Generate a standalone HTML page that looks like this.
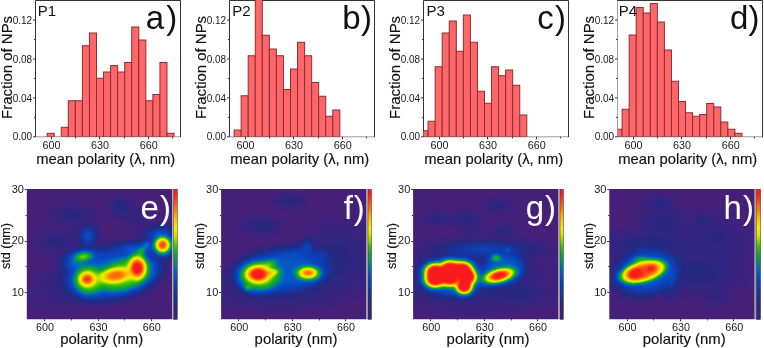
<!DOCTYPE html>
<html><head><meta charset="utf-8"><title>figure</title>
<style>
html,body{margin:0;padding:0;background:#fff;}
body{width:764px;height:348px;overflow:hidden;}
svg{display:block;font-family:"Liberation Sans", sans-serif;will-change:transform;}
</style></head><body>
<svg width="764" height="348" viewBox="0 0 764 348">
<defs>
<filter id="cm" x="0" y="0" width="1" height="1" color-interpolation-filters="sRGB"><feGaussianBlur stdDeviation="0.9"/><feComponentTransfer><feFuncR type="table" tableValues="0.275 0.256 0.237 0.218 0.200 0.184 0.167 0.150 0.136 0.123 0.111 0.098 0.088 0.079 0.070 0.062 0.054 0.048 0.043 0.038 0.032 0.027 0.022 0.016 0.011 0.007 0.004 0.002 0.005 0.025 0.045 0.064 0.084 0.130 0.179 0.229 0.319 0.425 0.532 0.641 0.749 0.814 0.858 0.901 0.945 0.958 0.968 0.978 0.980 0.980 0.980 0.980 0.980 0.980 0.980 0.980 0.980 0.980 0.980 0.980 0.980 0.978 0.975 0.973"/><feFuncG type="table" tableValues="0.125 0.130 0.134 0.138 0.143 0.149 0.155 0.161 0.168 0.177 0.185 0.193 0.203 0.214 0.224 0.235 0.246 0.259 0.271 0.284 0.296 0.320 0.345 0.371 0.397 0.433 0.483 0.533 0.575 0.597 0.619 0.642 0.664 0.688 0.713 0.738 0.768 0.799 0.830 0.861 0.892 0.909 0.919 0.930 0.940 0.902 0.858 0.815 0.775 0.736 0.692 0.629 0.567 0.506 0.454 0.402 0.350 0.298 0.246 0.193 0.147 0.132 0.117 0.102"/><feFuncB type="table" tableValues="0.478 0.485 0.491 0.497 0.502 0.504 0.507 0.509 0.520 0.543 0.565 0.588 0.611 0.634 0.658 0.681 0.702 0.718 0.734 0.750 0.766 0.770 0.772 0.774 0.775 0.727 0.611 0.495 0.396 0.338 0.280 0.222 0.164 0.135 0.110 0.085 0.056 0.025 0.000 0.000 0.000 0.000 0.000 0.000 0.000 0.000 0.000 0.000 0.000 0.000 0.000 0.000 0.000 0.002 0.022 0.043 0.064 0.080 0.087 0.093 0.099 0.102 0.106 0.110"/><feFuncA type="identity"/></feComponentTransfer></filter><linearGradient id="cbar" x1="0" y1="0" x2="0" y2="1"><stop offset="0.000" stop-color="rgb(248,26,28)"/><stop offset="0.050" stop-color="rgb(250,38,25)"/><stop offset="0.100" stop-color="rgb(250,80,20)"/><stop offset="0.160" stop-color="rgb(250,130,0)"/><stop offset="0.210" stop-color="rgb(250,180,0)"/><stop offset="0.250" stop-color="rgb(250,205,0)"/><stop offset="0.300" stop-color="rgb(242,240,0)"/><stop offset="0.360" stop-color="rgb(200,230,0)"/><stop offset="0.400" stop-color="rgb(130,210,0)"/><stop offset="0.440" stop-color="rgb(62,190,20)"/><stop offset="0.490" stop-color="rgb(22,170,40)"/><stop offset="0.560" stop-color="rgb(0,145,105)"/><stop offset="0.610" stop-color="rgb(2,105,198)"/><stop offset="0.680" stop-color="rgb(8,76,196)"/><stop offset="0.750" stop-color="rgb(14,62,178)"/><stop offset="0.820" stop-color="rgb(24,50,152)"/><stop offset="0.880" stop-color="rgb(36,42,130)"/><stop offset="0.940" stop-color="rgb(52,36,128)"/><stop offset="1" stop-color="rgb(52,36,128)"/></linearGradient><clipPath id="hc0"><rect x="26.80" y="189.00" width="145.40" height="130.20"/></clipPath><clipPath id="hc1"><rect x="221.10" y="189.00" width="145.40" height="130.20"/></clipPath><clipPath id="hc2"><rect x="413.10" y="189.00" width="145.40" height="130.20"/></clipPath><clipPath id="hc3"><rect x="609.30" y="189.00" width="145.40" height="130.20"/></clipPath>
</defs>
<clipPath id="cp0"><rect x="35.5" y="0" width="145" height="136.8"/></clipPath>
<path d="M35.5 136.8H180.5" stroke="#9a9a9a" stroke-width="1"/>
<path d="M35.5 136.8V0.5H180.5V137.1" fill="none" stroke="#333333" stroke-width="1"/>
<g clip-path="url(#cp0)" fill="#ff666a" stroke="#8a3030" stroke-width="1"><rect x="47.15" y="133.3" width="7.05" height="3.5"/><rect x="61.25" y="127.3" width="7.05" height="9.5"/><rect x="68.3" y="100.75" width="7.05" height="36.05"/><rect x="75.35" y="100.75" width="7.05" height="36.05"/><rect x="82.4" y="45.75" width="7.05" height="91.05"/><rect x="89.45" y="33" width="7.05" height="103.8"/><rect x="96.5" y="78.25" width="7.05" height="58.55"/><rect x="103.55" y="72" width="7.05" height="64.8"/><rect x="110.6" y="65.6" width="7.05" height="71.2"/><rect x="117.65" y="72" width="7.05" height="64.8"/><rect x="124.7" y="62.5" width="7.05" height="74.3"/><rect x="131.75" y="27" width="7.05" height="109.8"/><rect x="138.8" y="40" width="7.05" height="96.8"/><rect x="145.85" y="100.75" width="7.05" height="36.05"/><rect x="152.9" y="94.5" width="7.05" height="42.3"/><rect x="159.95" y="62.5" width="7.05" height="74.3"/><rect x="167" y="133.3" width="7.05" height="3.5"/></g>
<path d="M33 136.8h2.5M33 97.9h2.5M33 59h2.5M33 20.1h2.5M34 117.35h1.5M34 78.45h1.5M34 39.55h1.5M51.5 136.8v2.5M99.5 136.8v2.5M148.5 136.8v2.5M75.5 136.8v1.5M124.5 136.8v1.5M172.5 136.8v1.5" stroke="#333333" stroke-width="1" fill="none"/>
<g font-size="10.8" fill="#1a1a1a"><text x="32.1" y="140.4" text-anchor="end" font-size="10">0.00</text><text x="32.1" y="101.5" text-anchor="end" font-size="10">0.04</text><text x="32.1" y="62.6" text-anchor="end" font-size="10">0.08</text><text x="32.1" y="23.7" text-anchor="end" font-size="10">0.12</text><text x="51.5" y="148.9" text-anchor="middle">600</text><text x="100.1" y="148.9" text-anchor="middle">630</text><text x="148.7" y="148.9" text-anchor="middle">660</text></g>
<text x="105.8" y="163.5" font-size="14.5" fill="#111" stroke="#111" stroke-width="0.15" text-anchor="middle" textLength="139" lengthAdjust="spacingAndGlyphs">mean polarity (&#955;, nm)</text>
<text transform="translate(12.4 67.4) rotate(-90)" font-size="14.3" fill="#111" stroke="#111" stroke-width="0.15" text-anchor="middle" textLength="103" lengthAdjust="spacingAndGlyphs">Fraction of NPs</text>
<text x="37.7" y="15.5" font-size="15" fill="#111">P1</text>
<g font-size="33" fill="#111"><text x="145.8" y="28.8">a</text><text x="166.35" y="28.8">)</text></g>
<clipPath id="cp1"><rect x="229.5" y="0" width="145" height="136.8"/></clipPath>
<path d="M229.5 136.8H374.5" stroke="#9a9a9a" stroke-width="1"/>
<path d="M229.5 136.8V0.5H374.5V137.1" fill="none" stroke="#333333" stroke-width="1"/>
<g clip-path="url(#cp1)" fill="#ff666a" stroke="#8a3030" stroke-width="1"><rect x="234.1" y="130" width="7.05" height="6.8"/><rect x="241.15" y="95.75" width="7.05" height="41.05"/><rect x="248.2" y="55.75" width="7.05" height="81.05"/><rect x="255.25" y="-5" width="7.05" height="141.8"/><rect x="262.3" y="35.25" width="7.05" height="101.55"/><rect x="269.35" y="49" width="7.05" height="87.8"/><rect x="276.4" y="55.75" width="7.05" height="81.05"/><rect x="283.45" y="89.5" width="7.05" height="47.3"/><rect x="290.5" y="69" width="7.05" height="67.8"/><rect x="297.55" y="42.25" width="7.05" height="94.55"/><rect x="304.6" y="55.75" width="7.05" height="81.05"/><rect x="311.65" y="82.5" width="7.05" height="54.3"/><rect x="318.7" y="96.25" width="7.05" height="40.55"/><rect x="325.75" y="116.25" width="7.05" height="20.55"/><rect x="332.8" y="110" width="7.05" height="26.8"/></g>
<path d="M227 136.8h2.5M227 97.9h2.5M227 59h2.5M227 20.1h2.5M228 117.35h1.5M228 78.45h1.5M228 39.55h1.5M245.5 136.8v2.5M293.5 136.8v2.5M342.5 136.8v2.5M269.5 136.8v1.5M318.5 136.8v1.5M366.5 136.8v1.5" stroke="#333333" stroke-width="1" fill="none"/>
<g font-size="10.8" fill="#1a1a1a"><text x="226.1" y="140.4" text-anchor="end" font-size="10">0.00</text><text x="226.1" y="101.5" text-anchor="end" font-size="10">0.04</text><text x="226.1" y="62.6" text-anchor="end" font-size="10">0.08</text><text x="226.1" y="23.7" text-anchor="end" font-size="10">0.12</text><text x="245.5" y="148.9" text-anchor="middle">600</text><text x="294.1" y="148.9" text-anchor="middle">630</text><text x="342.7" y="148.9" text-anchor="middle">660</text></g>
<text x="299.8" y="163.5" font-size="14.5" fill="#111" stroke="#111" stroke-width="0.15" text-anchor="middle" textLength="139" lengthAdjust="spacingAndGlyphs">mean polarity (&#955;, nm)</text>
<text transform="translate(206.4 67.4) rotate(-90)" font-size="14.3" fill="#111" stroke="#111" stroke-width="0.15" text-anchor="middle" textLength="103" lengthAdjust="spacingAndGlyphs">Fraction of NPs</text>
<text x="232.3" y="15.5" font-size="15" fill="#111">P2</text>
<g font-size="33" fill="#111"><text x="342.25" y="28.8">b</text><text x="361.1" y="28.8">)</text></g>
<clipPath id="cp2"><rect x="423.5" y="0" width="145" height="136.8"/></clipPath>
<path d="M423.5 136.8H568.5" stroke="#9a9a9a" stroke-width="1"/>
<path d="M423.5 136.8V0.5H568.5V137.1" fill="none" stroke="#333333" stroke-width="1"/>
<g clip-path="url(#cp2)" fill="#ff666a" stroke="#8a3030" stroke-width="1"><rect x="421.05" y="130.75" width="7.05" height="6.05"/><rect x="428.1" y="121.25" width="7.05" height="15.55"/><rect x="435.15" y="66.75" width="7.05" height="70.05"/><rect x="442.2" y="33" width="7.05" height="103.8"/><rect x="449.25" y="21" width="7.05" height="115.8"/><rect x="456.3" y="51.25" width="7.05" height="85.55"/><rect x="463.35" y="15" width="7.05" height="121.8"/><rect x="470.4" y="42.25" width="7.05" height="94.55"/><rect x="477.45" y="91.25" width="7.05" height="45.55"/><rect x="484.5" y="103.25" width="7.05" height="33.55"/><rect x="491.55" y="66.75" width="7.05" height="70.05"/><rect x="498.6" y="75.75" width="7.05" height="61.05"/><rect x="505.65" y="70" width="7.05" height="66.8"/><rect x="512.7" y="85.25" width="7.05" height="51.55"/><rect x="519.75" y="115" width="7.05" height="21.8"/></g>
<path d="M421 136.8h2.5M421 97.9h2.5M421 59h2.5M421 20.1h2.5M422 117.35h1.5M422 78.45h1.5M422 39.55h1.5M439.5 136.8v2.5M487.5 136.8v2.5M536.5 136.8v2.5M463.5 136.8v1.5M512.5 136.8v1.5M560.5 136.8v1.5" stroke="#333333" stroke-width="1" fill="none"/>
<g font-size="10.8" fill="#1a1a1a"><text x="420.1" y="140.4" text-anchor="end" font-size="10">0.00</text><text x="420.1" y="101.5" text-anchor="end" font-size="10">0.04</text><text x="420.1" y="62.6" text-anchor="end" font-size="10">0.08</text><text x="420.1" y="23.7" text-anchor="end" font-size="10">0.12</text><text x="439.5" y="148.9" text-anchor="middle">600</text><text x="488.1" y="148.9" text-anchor="middle">630</text><text x="536.7" y="148.9" text-anchor="middle">660</text></g>
<text x="493.8" y="163.5" font-size="14.5" fill="#111" stroke="#111" stroke-width="0.15" text-anchor="middle" textLength="139" lengthAdjust="spacingAndGlyphs">mean polarity (&#955;, nm)</text>
<text transform="translate(400.4 67.4) rotate(-90)" font-size="14.3" fill="#111" stroke="#111" stroke-width="0.15" text-anchor="middle" textLength="103" lengthAdjust="spacingAndGlyphs">Fraction of NPs</text>
<text x="426.5" y="15.5" font-size="15" fill="#111">P3</text>
<g font-size="33" fill="#111"><text x="537.3" y="28.8">c</text><text x="555.1" y="28.8">)</text></g>
<clipPath id="cp3"><rect x="617.5" y="0" width="145" height="136.8"/></clipPath>
<path d="M617.5 136.8H762.5" stroke="#9a9a9a" stroke-width="1"/>
<path d="M617.5 136.8V0.5H762.5V137.1" fill="none" stroke="#333333" stroke-width="1"/>
<path d="M617.5 1V136.3" stroke="#a0a0a0" stroke-width="1"/>
<g clip-path="url(#cp3)" fill="#ff666a" stroke="#8a3030" stroke-width="1"><rect x="615.05" y="129.25" width="7.05" height="7.55"/><rect x="622.1" y="109.25" width="7.05" height="27.55"/><rect x="629.15" y="35" width="7.05" height="101.8"/><rect x="636.2" y="7.5" width="7.05" height="129.3"/><rect x="643.25" y="13" width="7.05" height="123.8"/><rect x="650.3" y="3.5" width="7.05" height="133.3"/><rect x="657.35" y="22" width="7.05" height="114.8"/><rect x="664.4" y="50" width="7.05" height="86.8"/><rect x="671.45" y="81.25" width="7.05" height="55.55"/><rect x="678.5" y="101.5" width="7.05" height="35.3"/><rect x="685.55" y="112.75" width="7.05" height="24.05"/><rect x="692.6" y="116.25" width="7.05" height="20.55"/><rect x="699.65" y="114.5" width="7.05" height="22.3"/><rect x="706.7" y="103.5" width="7.05" height="33.3"/><rect x="713.75" y="107" width="7.05" height="29.8"/><rect x="720.8" y="122" width="7.05" height="14.8"/><rect x="727.85" y="129.25" width="7.05" height="7.55"/><rect x="734.9" y="133.25" width="7.05" height="3.55"/></g>
<path d="M615 136.8h2.5M615 97.9h2.5M615 59h2.5M615 20.1h2.5M616 117.35h1.5M616 78.45h1.5M616 39.55h1.5M633.5 136.8v2.5M681.5 136.8v2.5M730.5 136.8v2.5M657.5 136.8v1.5M706.5 136.8v1.5M754.5 136.8v1.5" stroke="#333333" stroke-width="1" fill="none"/>
<g font-size="10.8" fill="#1a1a1a"><text x="614.1" y="140.4" text-anchor="end" font-size="10">0.00</text><text x="614.1" y="101.5" text-anchor="end" font-size="10">0.04</text><text x="614.1" y="62.6" text-anchor="end" font-size="10">0.08</text><text x="614.1" y="23.7" text-anchor="end" font-size="10">0.12</text><text x="633.5" y="148.9" text-anchor="middle">600</text><text x="682.1" y="148.9" text-anchor="middle">630</text><text x="730.7" y="148.9" text-anchor="middle">660</text></g>
<text x="687.8" y="163.5" font-size="14.5" fill="#111" stroke="#111" stroke-width="0.15" text-anchor="middle" textLength="139" lengthAdjust="spacingAndGlyphs">mean polarity (&#955;, nm)</text>
<text transform="translate(594.4 67.4) rotate(-90)" font-size="14.3" fill="#111" stroke="#111" stroke-width="0.15" text-anchor="middle" textLength="103" lengthAdjust="spacingAndGlyphs">Fraction of NPs</text>
<text x="618.7" y="15.5" font-size="15" fill="#111">P4</text>
<g font-size="33" fill="#111"><text x="730" y="28.8">d</text><text x="748.6" y="28.8">)</text></g>
<g clip-path="url(#hc0)"><g filter="url(#cm)"><rect x="22.80" y="185.00" width="153.40" height="138.20" fill="#000"/><path fill="#060606" d="M70.3 312.6L56.3 312.8L43.3 311.0L38.3 309.4L33.3 307.1L29.7 304.5L27.3 301.8L27.3 285.4L30.7 280.5L35.5 275.5L49.3 265.4L50.3 263.5L52.3 256.5L52.2 255.5L51.3 255.1L42.3 252.9L35.5 249.5L31.6 245.5L30.2 241.5L30.6 238.5L31.6 236.5L36.3 232.0L43.3 228.8L53.7 226.5L53.4 225.5L47.3 220.5L45.4 216.5L45.4 213.5L46.0 211.5L49.3 207.5L53.3 204.8L57.3 203.1L62.3 201.8L69.3 200.9L75.3 200.9L81.3 201.8L86.3 203.1L91.3 205.4L95.4 208.5L98.0 212.5L98.4 215.5L97.2 220.5L100.8 225.5L102.7 229.5L103.6 233.5L103.7 238.5L104.3 239.5L119.3 237.0L133.3 235.8L134.1 235.5L134.5 234.5L135.4 230.5L135.0 229.5L128.3 227.8L124.3 225.9L118.4 220.5L112.3 218.2L109.3 216.4L107.1 214.5L105.1 211.5L104.1 206.5L105.7 201.5L109.4 197.5L115.3 194.7L119.3 194.0L123.3 194.1L127.3 195.0L131.3 196.9L134.5 199.5L138.3 204.4L146.3 206.6L151.3 209.6L154.3 213.5L155.3 219.6L166.3 220.6L173.3 222.4L173.3 262.3L172.0 263.5L171.3 270.5L168.8 276.5L164.5 282.5L159.3 287.6L151.3 293.9L144.3 298.1L133.3 302.9L124.3 305.7L108.3 308.9L87.3 310.3L70.3 312.6Z"/><path fill="#0d0d0d" d="M139.3 224.6L135.3 224.7L131.3 223.8L127.3 221.5L124.3 217.8L116.3 216.4L111.3 213.8L108.7 210.5L107.9 207.5L108.3 204.5L110.0 201.5L113.3 198.8L117.3 197.3L121.3 196.9L125.3 197.6L129.3 199.4L131.6 201.5L132.9 203.5L134.7 208.5L141.3 209.9L145.3 211.7L147.2 213.5L148.2 215.5L148.4 217.5L147.8 219.5L146.3 221.5L144.3 223.0L139.3 224.6ZM106.3 306.5L91.3 306.9L57.3 304.0L51.3 302.5L46.9 300.5L43.3 297.7L41.3 294.7L40.5 290.5L41.3 286.5L44.2 281.5L52.3 272.9L54.3 270.0L54.6 260.5L55.6 257.5L58.7 252.5L57.3 251.7L47.3 250.3L41.3 247.6L38.8 245.5L37.5 243.5L37.0 240.5L37.5 238.5L39.8 235.5L42.8 233.5L47.3 231.7L52.3 230.7L57.3 230.4L63.3 231.0L67.3 232.0L73.3 234.5L76.6 226.5L76.3 225.7L75.4 225.5L68.3 225.4L62.3 224.3L57.3 222.2L53.8 219.5L52.1 216.5L52.0 214.5L52.5 212.5L54.8 209.5L58.3 207.2L65.3 205.0L74.3 204.5L82.3 206.0L85.8 207.5L88.8 209.5L90.5 211.5L91.6 214.5L90.4 219.5L91.1 220.5L97.0 224.5L100.2 229.5L101.3 234.5L100.7 241.5L101.3 242.6L120.3 238.9L137.8 237.5L138.5 232.5L141.0 228.5L145.3 225.2L151.3 223.1L157.3 222.2L162.3 222.2L168.3 223.2L173.3 224.9L173.3 259.8L169.0 262.5L168.8 268.5L167.9 272.5L166.0 276.5L163.2 280.5L158.4 285.5L152.3 290.3L146.3 294.2L140.3 297.2L124.3 303.2L116.3 305.1L106.3 306.5Z"/><path fill="#131313" d="M123.3 214.6L119.3 214.7L116.3 214.0L113.7 212.5L111.8 210.5L110.9 208.5L110.9 205.5L112.3 202.8L114.3 201.0L118.3 199.4L122.3 199.3L126.4 200.5L129.8 203.5L130.9 206.5L130.0 210.5L127.3 213.3L123.3 214.6ZM75.3 222.5L68.1 222.5L61.3 220.4L58.8 218.5L57.5 216.5L57.3 214.5L58.0 212.5L61.6 209.5L68.3 207.5L75.5 207.5L82.3 209.6L84.8 211.5L86.1 213.5L86.3 215.5L85.6 217.5L83.7 219.5L81.3 220.9L75.3 222.5ZM138.3 219.7L135.3 219.7L133.3 218.6L132.6 217.5L133.1 215.5L136.3 214.2L138.3 214.3L140.3 215.4L141.0 217.5L140.3 218.6L138.3 219.7ZM108.3 304.6L100.3 305.2L92.3 305.0L78.3 302.9L68.3 300.0L59.3 296.5L54.9 293.5L53.0 290.5L52.5 287.5L53.1 283.5L57.6 270.5L56.6 263.5L57.6 258.5L60.2 254.5L64.3 251.1L68.3 248.9L78.5 245.5L75.9 239.5L75.7 235.5L76.7 230.5L79.3 226.2L83.3 222.9L86.3 222.1L91.3 222.8L95.3 225.2L97.9 228.5L99.7 233.5L99.7 238.5L97.9 244.5L99.3 244.9L121.3 240.2L140.3 238.8L140.8 238.5L140.6 233.5L142.9 229.5L147.3 226.3L152.3 224.5L157.3 223.7L163.3 223.8L168.3 224.7L173.3 226.8L173.3 258.1L167.2 261.5L166.4 262.5L166.9 267.5L166.2 271.5L164.6 275.5L161.2 280.5L153.3 287.9L147.3 291.9L141.3 295.1L125.3 301.1L117.3 303.1L108.3 304.6ZM60.3 248.5L52.3 248.4L46.3 246.4L43.8 244.5L42.5 242.5L42.3 240.5L43.0 238.5L46.6 235.5L53.3 233.5L60.5 233.5L67.3 235.6L69.8 237.5L71.1 239.5L71.3 241.5L70.6 243.5L68.7 245.5L66.3 246.9L60.3 248.5Z"/><path fill="#1a1a1a" d="M122.3 212.6L117.3 212.0L114.2 209.5L113.4 207.5L113.7 205.5L116.3 202.5L119.3 201.4L122.3 201.4L125.3 202.5L127.4 204.5L128.2 206.5L127.5 209.5L125.3 211.6L122.3 212.6ZM74.3 219.6L69.3 219.6L65.6 218.5L63.2 216.5L62.8 214.5L63.2 213.5L65.6 211.5L69.3 210.4L74.3 210.4L78.0 211.5L80.4 213.5L80.8 214.5L80.4 216.5L78.0 218.5L74.3 219.6ZM103.3 303.6L87.3 303.1L81.3 302.0L75.3 300.1L68.3 297.0L63.3 293.6L60.3 290.5L58.3 286.5L57.6 283.5L57.6 279.5L60.0 270.5L58.5 263.5L59.1 259.5L61.4 255.5L65.3 252.1L71.3 249.0L80.3 246.0L80.6 245.5L77.7 240.5L77.0 236.5L77.7 231.5L80.3 227.1L83.3 224.7L87.3 223.6L91.3 224.3L95.3 227.1L97.5 230.5L98.5 234.5L97.9 240.5L95.2 245.5L97.3 246.5L104.0 245.5L122.3 241.2L140.3 240.1L142.8 238.5L142.6 233.5L144.1 230.5L147.9 227.5L153.3 225.5L158.3 224.7L164.3 225.0L169.3 226.4L173.3 228.5L173.3 256.8L170.3 259.0L164.5 261.5L165.3 267.5L164.7 271.5L162.5 276.5L158.7 281.5L154.3 285.7L148.3 290.0L136.3 296.0L120.3 301.0L111.3 302.8L103.3 303.6ZM59.3 245.6L54.3 245.6L50.6 244.5L48.2 242.5L47.8 240.5L48.2 239.5L50.6 237.5L54.3 236.4L59.3 236.4L63.0 237.5L65.4 239.5L65.8 240.5L65.4 242.5L63.0 244.5L59.3 245.6Z"/><path fill="#202020" d="M123.3 209.7L120.3 210.3L118.0 209.5L116.6 207.5L117.0 205.5L118.3 204.3L120.3 203.7L123.6 204.5L124.6 205.5L125.0 207.5L123.3 209.7ZM110.3 301.6L102.3 302.3L92.3 302.3L86.3 301.8L81.3 300.8L74.3 298.0L68.4 294.5L63.9 290.5L61.4 286.5L60.2 280.5L61.9 271.5L60.1 264.5L60.6 259.5L63.1 255.5L68.2 251.5L74.3 248.7L82.6 246.5L82.5 245.5L79.3 241.5L78.1 237.5L78.5 232.5L80.6 228.5L83.3 226.1L87.3 224.9L91.3 225.6L94.3 227.7L96.7 231.5L97.6 236.5L96.3 241.5L92.8 246.5L98.3 247.7L106.3 246.3L122.3 242.2L130.3 241.3L139.3 241.2L141.3 240.6L144.3 238.5L144.2 233.5L146.0 230.5L149.3 228.0L154.3 226.2L159.3 225.7L164.3 226.0L169.2 227.5L172.6 229.5L173.3 230.2L173.3 255.7L169.3 258.6L163.1 260.5L162.6 261.5L163.8 266.5L163.6 270.5L161.8 275.5L158.3 280.5L154.2 284.5L149.3 288.3L139.3 293.7L124.3 298.9L110.3 301.6Z"/><path fill="#262626" d="M109.3 300.6L90.3 301.2L81.3 299.8L75.3 297.2L70.0 293.5L65.9 289.5L63.5 285.5L62.4 279.5L63.9 271.5L61.4 263.5L61.7 260.5L63.0 257.5L66.7 253.5L72.3 250.2L78.3 248.2L86.7 246.5L82.0 243.5L80.4 241.5L79.3 238.5L79.3 233.5L80.4 230.5L82.0 228.5L85.3 226.4L88.3 226.0L91.3 226.8L94.3 229.2L95.7 231.5L96.5 234.5L96.0 239.5L93.3 243.8L88.7 246.5L99.3 248.8L108.3 247.1L123.3 242.9L140.3 241.7L146.0 238.5L145.7 233.5L147.7 230.5L150.6 228.5L154.3 227.2L159.3 226.5L164.3 227.0L168.3 228.2L172.0 230.5L173.3 232.1L173.3 254.7L168.3 258.3L161.3 259.9L160.6 260.5L162.4 265.5L162.4 270.5L160.6 275.5L157.0 280.5L153.0 284.5L148.3 288.0L138.3 293.3L124.3 298.0L109.3 300.6Z"/><path fill="#2d2d2d" d="M90.3 244.6L87.3 245.0L84.3 244.1L81.6 241.5L80.2 238.5L80.0 234.5L81.0 231.5L83.3 228.6L86.3 227.2L89.3 227.2L92.2 228.5L94.0 230.5L95.4 233.5L95.6 237.5L94.6 240.5L92.3 243.4L90.3 244.6ZM109.3 299.5L91.3 300.4L85.3 300.0L81.3 299.0L77.3 297.3L70.8 292.5L66.8 287.5L64.6 281.5L64.6 277.5L65.7 271.5L63.0 265.5L62.6 262.5L63.7 258.5L65.8 255.5L68.3 253.3L72.3 250.9L81.3 248.1L89.3 247.7L98.3 249.7L101.3 249.7L110.3 247.9L123.3 243.7L129.3 242.9L140.3 242.4L147.8 238.5L146.9 235.5L147.6 232.5L150.8 229.5L155.3 227.8L159.3 227.3L163.3 227.6L167.3 228.7L170.3 230.5L172.2 232.5L173.3 234.6L173.3 253.8L170.3 256.5L167.3 258.0L164.3 258.8L159.3 258.9L158.4 259.5L160.9 264.5L161.4 269.5L160.0 274.5L155.9 280.5L151.8 284.5L147.3 287.8L137.3 293.0L124.3 297.1L109.3 299.5Z"/><path fill="#333333" d="M89.3 243.8L86.3 243.8L84.3 242.9L82.0 240.5L80.9 237.5L80.9 234.5L82.3 231.1L84.3 229.1L87.3 228.0L90.3 228.5L92.3 229.9L93.6 231.5L94.7 234.5L94.7 237.5L93.6 240.5L91.9 242.5L89.3 243.8ZM93.3 299.5L85.3 299.4L78.3 297.0L72.2 292.5L68.4 287.5L66.8 283.5L66.3 280.5L67.3 271.5L64.2 265.5L63.8 262.5L64.9 258.5L67.9 254.5L73.3 251.0L81.3 248.6L89.3 248.3L99.3 250.8L101.3 250.9L111.3 248.9L119.3 245.6L124.3 244.3L140.3 243.0L145.3 240.0L149.3 239.5L148.2 235.5L149.0 232.5L152.3 229.7L156.3 228.4L161.3 228.2L165.3 228.9L168.7 230.5L170.9 232.5L173.3 236.6L173.3 252.9L169.3 256.5L164.3 258.2L158.3 257.8L153.1 255.5L153.3 256.5L156.3 259.1L158.9 262.5L160.1 265.5L160.3 269.5L159.7 272.5L157.8 276.5L154.8 280.5L151.3 283.9L146.3 287.7L141.3 290.5L135.3 293.1L127.3 295.7L114.3 298.1L93.3 299.5Z"/><path fill="#393939" d="M89.3 242.8L86.3 242.8L84.3 241.7L82.5 239.5L81.8 237.5L81.8 234.5L83.1 231.5L85.3 229.6L87.3 229.0L89.3 229.2L91.3 230.3L93.1 232.5L93.8 234.5L93.8 237.5L93.1 239.5L91.3 241.7L89.3 242.8ZM95.3 298.6L87.3 299.0L80.3 297.3L74.3 293.5L70.1 288.5L68.3 284.5L67.6 280.5L68.8 271.5L65.9 266.5L65.0 263.5L66.0 258.5L69.0 254.5L74.3 251.1L82.3 248.9L90.3 248.9L99.3 251.9L101.3 252.1L112.3 250.1L119.8 246.5L124.3 245.1L140.3 243.6L145.3 240.4L149.7 240.5L150.3 239.9L150.4 238.5L149.5 234.5L150.3 232.6L152.8 230.5L156.3 229.2L160.3 228.9L164.3 229.5L167.3 230.7L169.6 232.5L173.3 237.8L173.3 252.0L172.1 253.5L168.3 256.4L163.3 257.8L158.3 257.1L151.3 253.4L150.2 254.5L151.3 256.3L155.3 259.7L157.6 262.5L158.9 265.5L159.3 268.5L158.7 272.5L156.8 276.5L150.7 283.5L146.3 286.9L141.3 289.8L134.3 292.8L127.3 295.0L115.3 297.2L100.3 297.8L95.3 298.6Z"/><path fill="#404040" d="M89.3 241.7L87.3 241.9L85.3 241.2L83.6 239.5L82.8 237.5L82.8 234.5L83.6 232.5L85.3 230.8L87.3 230.1L89.3 230.3L91.2 231.5L92.8 234.5L93.0 236.5L92.3 239.0L91.2 240.5L89.3 241.7ZM96.3 297.6L88.3 298.5L81.3 297.0L75.3 293.5L71.0 288.5L69.3 284.5L68.5 280.5L70.0 270.5L66.6 265.5L66.0 262.5L67.0 258.5L69.9 254.5L76.3 250.8L80.3 249.7L85.3 249.1L92.3 249.8L99.3 253.1L102.3 253.2L114.3 251.1L120.2 247.5L125.3 245.7L130.3 244.9L139.3 244.4L141.3 243.7L145.3 240.9L147.3 240.6L150.3 241.3L151.3 238.5L150.7 235.5L151.1 233.5L153.3 231.3L157.3 229.9L161.3 229.7L164.9 230.5L167.3 231.7L170.3 234.5L173.3 238.8L173.3 251.1L170.4 254.5L166.3 256.7L162.3 257.3L157.3 256.2L151.3 252.0L150.3 252.0L148.9 253.5L149.4 255.5L156.4 262.5L157.8 265.5L158.3 268.5L158.0 271.5L156.4 275.5L153.7 279.5L149.7 283.5L145.3 286.8L140.3 289.6L127.3 294.4L116.3 296.4L101.3 296.8L96.3 297.6Z"/><path fill="#464646" d="M93.3 297.6L86.3 297.7L80.3 296.0L75.1 292.5L71.3 287.5L69.8 283.5L69.3 279.5L71.2 270.5L67.8 265.5L67.1 262.5L68.4 257.5L71.3 254.1L77.3 250.9L85.3 249.5L92.8 250.5L100.3 254.8L116.1 252.5L118.2 251.5L121.0 248.5L125.5 246.5L130.3 245.6L139.3 245.0L146.3 241.0L148.3 241.2L150.3 242.2L151.7 239.5L152.5 233.5L154.9 231.5L158.3 230.5L162.3 230.6L165.3 231.5L168.3 233.5L171.3 236.7L173.3 239.9L173.3 250.1L171.8 252.5L169.3 254.8L164.3 256.7L159.3 256.4L155.3 254.4L150.3 249.7L148.1 252.5L147.8 253.5L148.5 255.5L155.9 263.5L157.0 266.5L157.3 269.5L156.4 273.5L154.2 277.5L150.9 281.5L147.5 284.5L138.3 289.9L126.3 294.0L114.3 295.9L101.3 295.9L93.3 297.6ZM89.3 240.5L86.3 240.5L84.9 239.5L83.8 237.5L83.6 235.5L84.2 233.5L86.3 231.5L89.3 231.5L90.7 232.5L91.8 234.5L92.0 236.5L91.4 238.5L89.3 240.5Z"/><path fill="#4c4c4c" d="M95.3 296.6L88.3 297.3L81.3 295.8L76.0 292.5L72.0 287.5L70.5 283.5L70.0 279.5L72.2 269.5L69.1 265.5L68.2 262.5L69.3 257.5L72.3 254.0L78.3 251.0L86.3 249.9L90.3 250.3L93.8 251.5L99.3 256.5L120.3 253.8L121.9 252.5L122.5 249.5L125.6 247.5L130.3 246.4L139.3 245.6L141.8 244.5L144.3 242.2L146.3 241.4L148.3 241.7L150.3 243.1L151.3 242.4L154.1 233.5L155.3 232.5L158.3 231.4L162.3 231.5L165.3 232.4L168.3 234.4L171.3 237.4L173.3 241.0L173.3 249.0L171.2 252.5L168.3 254.9L164.3 256.3L160.3 256.2L157.3 255.2L154.8 253.5L150.3 247.6L148.3 250.1L147.2 252.5L147.0 254.5L154.7 263.5L156.0 266.5L156.3 269.5L155.4 273.5L153.3 277.5L149.9 281.5L146.5 284.5L137.3 289.7L125.3 293.6L114.3 295.2L101.3 295.0L95.3 296.6ZM89.3 239.0L87.3 239.4L85.1 237.5L85.1 234.5L87.3 232.6L89.3 233.0L90.5 234.5L90.5 237.5L89.3 239.0Z"/><path fill="#535353" d="M92.3 296.6L86.3 296.6L80.3 294.7L75.8 291.5L72.2 286.5L70.9 282.5L70.7 278.5L73.3 269.5L73.1 268.5L69.9 264.5L69.4 261.5L70.1 257.5L73.3 253.9L76.3 252.2L80.3 250.9L85.3 250.3L89.3 250.6L92.6 251.5L95.3 253.4L96.5 255.5L97.0 258.5L98.3 258.9L108.3 257.0L122.3 255.2L125.5 254.5L126.4 253.5L124.8 250.5L125.2 249.5L127.3 248.2L130.3 247.3L138.3 246.5L142.3 244.8L144.6 242.5L146.3 241.8L148.3 242.1L150.3 244.3L151.3 244.5L154.9 234.5L157.3 232.7L160.3 232.1L164.3 232.8L168.3 235.1L171.3 238.1L173.3 242.3L173.3 247.7L171.3 251.8L167.3 255.0L162.3 256.0L157.3 254.7L154.4 252.5L152.8 250.5L151.3 245.9L150.3 246.0L147.7 249.5L146.3 253.1L146.3 254.5L153.6 263.5L154.9 266.5L155.3 269.5L154.4 273.5L152.3 277.5L149.0 281.5L145.5 284.5L136.3 289.5L125.3 293.0L114.3 294.5L101.3 294.2L92.3 296.6ZM88.3 237.2L87.3 237.2L86.8 236.5L87.3 234.8L88.3 234.8L88.8 235.5L88.3 237.2Z"/><path fill="#595959" d="M164.3 255.5L160.3 255.4L156.3 253.6L153.4 250.5L152.1 247.5L151.9 243.5L153.8 238.5L156.3 234.6L159.3 233.1L163.3 233.3L167.3 235.0L171.1 238.5L173.0 242.5L173.2 246.5L171.7 250.5L168.3 254.0L164.3 255.5ZM94.3 295.6L87.3 296.1L81.3 294.6L76.3 291.2L72.9 286.5L71.6 282.5L71.4 278.5L74.5 268.5L71.3 264.5L70.4 260.5L71.0 257.5L73.3 254.5L77.3 252.2L82.3 250.9L87.3 250.7L91.2 251.5L94.5 253.5L95.4 255.5L94.7 258.5L92.2 261.5L94.3 262.1L97.3 262.0L111.3 258.3L126.3 255.5L128.7 253.5L128.9 252.5L128.0 250.5L129.3 249.0L138.3 247.1L142.3 245.3L145.3 242.5L146.3 242.2L148.2 242.5L149.3 243.5L149.9 245.5L147.0 249.5L145.7 254.5L152.5 263.5L153.8 266.5L154.2 269.5L153.8 272.5L152.6 275.5L150.7 278.5L147.3 282.2L143.3 285.3L139.3 287.5L126.3 292.2L115.3 293.8L102.3 293.3L94.3 295.6Z"/><path fill="#606060" d="M166.3 254.6L162.3 255.3L158.3 254.3L155.3 252.3L152.8 248.5L152.3 244.5L153.3 240.5L156.3 235.9L159.3 234.0L162.3 233.8L166.3 235.0L170.3 238.1L172.3 241.5L172.9 245.5L171.9 249.5L169.6 252.5L166.3 254.6ZM91.3 295.5L85.3 295.3L80.3 293.4L76.3 290.3L73.1 285.5L72.1 281.5L72.2 277.5L75.8 267.5L72.3 263.5L71.4 259.5L72.3 256.5L74.1 254.5L77.7 252.5L82.3 251.3L86.3 251.0L90.3 251.7L93.5 253.5L94.2 254.5L94.5 256.5L93.3 258.7L88.3 262.5L100.3 264.0L113.3 259.1L126.3 256.4L130.3 253.5L131.7 250.5L133.0 249.5L136.3 248.7L142.3 245.9L146.3 242.6L148.7 243.5L149.3 245.5L146.3 249.5L145.1 254.5L152.0 264.5L153.0 267.5L153.2 270.5L152.5 273.5L151.1 276.5L146.3 282.3L142.3 285.2L138.3 287.3L126.3 291.5L115.3 293.1L102.3 292.5L91.3 295.5Z"/><path fill="#666666" d="M165.3 254.6L161.3 254.8L157.5 253.5L154.3 250.5L152.9 247.5L152.7 244.5L153.7 240.5L156.3 236.7L159.3 234.8L163.3 234.5L167.3 236.0L170.3 238.7L172.2 242.5L172.4 246.5L171.3 249.8L169.1 252.5L165.3 254.6ZM93.3 294.6L87.3 294.9L82.3 293.7L77.4 290.5L74.3 286.5L72.9 282.5L72.8 277.5L74.1 273.5L77.8 266.5L77.3 265.5L74.3 263.5L72.6 260.5L72.6 257.5L73.8 255.5L76.5 253.5L81.3 251.8L86.3 251.4L90.3 252.2L93.4 254.5L93.7 255.5L93.3 257.5L90.3 260.2L83.5 263.5L92.3 264.3L100.3 265.8L113.3 260.2L126.3 257.1L138.2 248.5L143.3 246.1L145.3 243.5L147.3 243.1L148.3 243.7L148.8 245.5L148.3 246.6L146.0 248.5L144.5 254.5L150.6 263.5L152.0 267.5L152.2 270.5L151.6 273.5L150.2 276.5L146.3 281.5L139.3 286.1L126.3 290.9L115.3 292.4L102.3 291.6L93.3 294.6Z"/><path fill="#6c6c6c" d="M163.3 254.6L159.3 254.0L156.6 252.5L154.1 249.5L153.1 246.5L153.3 242.5L155.3 238.6L158.3 235.9L161.3 235.0L165.3 235.5L168.6 237.5L171.1 240.5L172.2 244.5L171.5 248.5L169.6 251.5L166.3 253.8L163.3 254.6ZM94.3 293.6L88.3 294.4L83.3 293.4L78.3 290.5L75.0 286.5L73.4 281.5L73.7 276.5L75.4 272.5L79.3 267.4L82.3 265.7L88.3 264.9L93.3 265.3L99.3 267.0L102.3 266.7L113.3 261.3L126.3 257.9L134.6 252.5L139.3 248.4L144.3 246.7L145.2 244.5L146.3 243.6L147.3 243.7L148.1 244.5L148.2 245.5L147.5 246.5L145.3 247.5L144.0 254.5L149.8 263.5L151.1 267.5L151.3 270.5L150.7 273.5L149.3 276.5L145.4 281.5L142.3 283.8L138.3 285.9L125.3 290.4L115.3 291.7L102.3 290.8L94.3 293.6ZM81.3 262.8L77.3 263.1L75.3 262.2L73.8 260.5L73.3 257.5L75.7 254.5L80.3 252.4L85.3 251.8L89.8 252.5L92.6 254.5L92.9 255.5L92.4 257.5L90.3 259.5L87.3 261.0L81.3 262.8Z"/><path fill="#737373" d="M165.3 253.8L161.3 254.1L158.3 253.2L155.3 250.7L153.7 247.5L153.5 243.5L154.5 240.5L156.3 238.0L159.3 236.0L162.3 235.4L166.3 236.4L169.3 238.6L171.5 242.5L171.7 246.5L170.7 249.5L168.3 252.3L165.3 253.8ZM147.3 245.6L146.3 245.9L145.9 245.5L146.2 244.5L147.3 245.6ZM91.3 293.6L86.3 293.5L82.3 292.2L78.2 289.5L75.3 285.5L74.0 281.5L74.3 276.5L76.1 272.5L79.3 268.8L83.3 266.5L88.3 265.7L93.3 266.2L99.3 268.1L102.3 267.9L113.3 262.3L126.3 258.7L135.8 252.5L140.3 248.4L142.3 247.7L144.1 248.5L144.4 250.5L143.5 254.5L148.8 262.5L149.9 265.5L150.5 269.5L149.1 275.5L147.3 278.5L144.3 281.7L138.3 285.2L125.3 289.7L115.3 290.9L103.3 289.7L91.3 293.6ZM83.3 261.6L79.3 262.1L76.3 261.4L74.3 259.5L74.6 256.5L78.3 253.6L83.3 252.3L88.3 252.5L91.7 254.5L92.1 256.5L90.7 258.5L87.3 260.5L83.3 261.6Z"/><path fill="#797979" d="M164.3 253.7L160.3 253.6L157.3 252.2L154.9 249.5L153.8 246.5L153.8 243.5L155.3 239.8L157.3 237.6L160.3 236.1L164.3 236.1L167.3 237.4L170.3 240.5L171.4 243.5L171.1 247.5L169.6 250.5L167.3 252.6L164.3 253.7ZM92.3 292.6L87.3 292.9L83.3 291.9L79.3 289.5L76.3 285.9L74.7 281.5L74.8 277.5L76.3 273.5L79.3 269.8L83.3 267.4L88.3 266.5L93.3 267.0L99.3 269.1L102.3 268.8L114.3 262.9L126.3 259.4L131.3 255.6L136.3 252.9L140.3 249.1L142.3 248.4L143.3 248.9L143.8 250.5L142.9 254.5L147.7 261.5L149.0 264.5L149.8 268.5L148.8 274.5L146.5 278.5L144.3 280.9L139.3 284.1L125.3 288.8L115.3 290.0L103.3 288.7L92.3 292.6ZM85.3 260.6L80.3 261.4L77.3 260.9L75.4 259.5L75.0 257.5L76.3 255.4L80.3 253.3L85.3 252.6L89.5 253.5L91.3 255.5L90.8 257.5L88.3 259.5L85.3 260.6Z"/><path fill="#808080" d="M163.3 253.5L160.3 253.3L157.0 251.5L154.8 248.5L154.0 245.5L154.4 242.5L156.0 239.5L158.3 237.4L161.3 236.3L165.3 236.8L168.2 238.5L170.4 241.5L171.2 244.5L170.8 247.5L169.2 250.5L166.3 252.7L163.3 253.5ZM93.3 291.5L88.3 292.1L84.3 291.4L80.3 289.3L77.3 286.1L75.6 282.5L75.3 278.5L76.5 274.5L79.3 270.8L83.3 268.3L88.3 267.3L92.3 267.7L99.3 270.1L102.3 269.6L114.3 264.0L126.3 260.3L131.3 256.1L136.5 253.5L140.3 249.8L142.5 249.5L143.0 250.5L142.3 254.5L142.6 255.5L147.2 261.5L148.7 265.5L149.1 268.5L148.7 272.5L147.7 275.5L143.9 280.5L138.3 283.8L124.3 288.1L115.3 289.0L103.3 287.5L93.3 291.5ZM83.3 260.6L80.3 260.8L77.3 260.0L75.9 258.5L76.2 256.5L78.4 254.5L82.3 253.2L86.3 253.1L89.8 254.5L90.5 256.5L89.3 258.1L87.1 259.5L83.3 260.6Z"/><path fill="#868686" d="M165.3 252.8L162.3 253.2L159.2 252.5L156.5 250.5L154.7 247.5L154.4 244.5L155.3 241.2L157.3 238.6L160.3 236.9L163.3 236.7L166.3 237.6L168.7 239.5L170.5 242.5L170.8 245.5L170.1 248.5L168.3 250.9L165.3 252.8ZM93.3 290.5L88.3 291.2L84.3 290.4L80.3 288.2L77.8 285.5L76.1 281.5L76.1 277.5L77.8 273.5L80.3 270.9L84.3 268.8L88.3 268.1L92.3 268.6L98.3 270.9L101.3 270.7L112.3 265.8L125.3 261.8L131.5 256.5L137.6 253.5L140.3 250.9L141.4 250.5L142.0 251.5L141.6 254.5L142.0 255.5L146.7 261.5L147.9 264.5L148.6 268.5L148.1 272.5L147.1 275.5L143.3 280.3L138.3 283.1L123.3 287.2L115.3 287.9L103.3 286.3L93.3 290.5ZM85.3 259.6L82.3 260.2L79.3 260.0L77.3 258.9L76.7 257.5L77.9 255.5L81.3 253.9L85.3 253.5L88.7 254.5L89.5 255.5L89.1 257.5L85.3 259.6Z"/><path fill="#8c8c8c" d="M164.3 252.7L161.3 252.8L158.3 251.6L156.1 249.5L154.8 246.5L154.8 243.5L156.1 240.5L158.3 238.3L161.3 237.1L164.3 237.2L167.3 238.6L169.3 240.8L170.4 243.5L170.4 246.5L169.1 249.5L167.1 251.5L164.3 252.7ZM92.3 289.7L87.3 290.1L83.3 289.1L79.5 286.5L77.4 283.5L76.6 280.5L77.0 276.5L79.3 272.7L82.3 270.4L85.3 269.3L89.3 269.0L92.3 269.5L97.3 271.7L100.3 271.7L111.3 266.9L124.3 263.5L126.3 262.3L132.2 256.5L139.3 253.4L140.3 253.4L141.3 255.5L146.3 261.5L147.9 266.5L147.6 272.5L145.2 277.5L143.3 279.6L140.3 281.6L124.8 285.5L119.3 286.4L113.3 286.4L105.3 285.1L102.3 285.2L92.3 289.7ZM83.3 259.6L79.3 259.2L78.1 258.5L77.7 257.5L78.0 256.5L80.3 254.8L83.3 254.0L86.3 254.2L88.5 255.5L88.6 256.5L87.3 258.1L83.3 259.6Z"/><path fill="#939393" d="M163.3 252.6L160.3 252.2L157.4 250.5L155.9 248.5L155.0 245.5L155.4 242.5L157.3 239.5L159.3 238.1L162.3 237.3L165.3 237.9L167.8 239.5L169.3 241.5L170.2 244.5L169.8 247.5L168.3 250.0L166.3 251.6L163.3 252.6ZM84.3 258.8L81.3 259.0L79.7 258.5L78.9 257.5L79.1 256.5L80.3 255.5L83.3 254.5L85.3 254.6L87.3 255.5L87.6 256.5L86.9 257.5L84.3 258.8ZM92.3 288.5L88.3 289.2L84.3 288.6L80.6 286.5L78.3 283.8L77.2 280.5L77.6 276.5L79.4 273.5L82.3 271.1L85.3 270.0L89.3 269.7L92.3 270.4L97.3 272.8L99.3 272.8L112.3 267.2L124.3 265.0L126.3 263.6L132.3 257.0L138.3 254.8L139.3 254.8L142.3 257.2L145.8 261.5L147.5 266.5L147.1 272.5L144.6 277.5L140.3 281.0L136.3 282.1L129.3 282.4L123.3 284.2L117.3 285.2L112.3 285.2L101.3 284.1L92.3 288.5Z"/><path fill="#999999" d="M165.3 251.7L162.3 252.3L159.3 251.5L157.3 250.0L155.8 247.5L155.3 244.5L156.2 241.5L157.8 239.5L160.3 238.0L163.3 237.7L165.3 238.2L167.4 239.5L169.4 242.5L169.9 245.5L169.3 247.8L167.4 250.5L165.3 251.7ZM85.3 257.6L82.3 258.2L80.4 257.5L80.5 256.5L81.3 256.0L84.3 255.3L85.4 255.5L86.1 256.5L85.3 257.6ZM92.3 287.5L89.3 288.3L85.3 288.1L82.3 286.9L79.3 284.2L78.0 281.5L77.7 278.5L78.7 275.5L81.3 272.5L84.3 270.9L88.3 270.4L91.3 270.9L96.3 273.6L98.3 274.0L106.3 269.9L111.3 268.0L116.3 266.8L125.3 266.0L132.2 257.5L137.3 255.6L139.3 255.7L141.3 256.9L144.0 259.5L145.9 262.5L147.1 267.5L146.6 272.5L144.3 277.1L140.3 280.4L136.3 281.4L130.3 280.8L123.3 283.1L116.3 284.4L110.3 284.3L100.3 282.9L98.3 283.5L92.3 287.5Z"/><path fill="#9f9f9f" d="M164.3 251.7L161.3 251.8L159.3 251.1L157.3 249.5L155.8 246.5L155.8 243.5L156.6 241.5L158.3 239.5L161.3 238.1L164.3 238.2L166.3 239.1L168.3 241.0L169.4 243.5L169.4 246.5L168.6 248.5L166.8 250.5L164.3 251.7ZM89.3 287.5L85.3 287.4L82.3 286.2L80.3 284.5L78.6 281.5L78.3 278.5L79.3 275.5L80.9 273.5L83.3 271.9L86.3 271.0L90.3 271.3L93.2 272.5L97.3 275.4L98.3 275.3L105.3 270.9L110.3 268.7L117.3 267.2L126.3 266.6L129.3 261.5L131.7 258.5L133.3 257.3L136.3 256.3L139.3 256.4L141.3 257.5L143.5 259.5L145.5 262.5L146.7 267.5L146.2 272.5L144.2 276.5L140.3 279.8L136.3 280.7L130.3 279.7L121.3 282.9L114.3 283.9L108.3 283.5L99.3 281.4L98.3 281.6L93.3 286.1L89.3 287.5Z"/><path fill="#a6a6a6" d="M163.3 251.6L160.3 251.2L158.3 250.0L156.5 247.5L156.0 245.5L156.5 242.5L157.7 240.5L160.3 238.8L162.3 238.3L165.3 238.9L167.3 240.3L168.7 242.5L169.2 244.5L168.7 247.5L167.5 249.5L165.3 251.0L163.3 251.6ZM120.3 282.5L113.3 283.4L107.3 282.8L100.7 280.5L98.3 278.5L98.5 277.5L100.9 274.5L103.5 272.5L110.3 269.1L117.3 267.7L126.3 267.6L127.3 266.7L130.5 260.5L134.3 257.3L138.3 256.7L142.3 258.8L145.1 262.5L146.3 267.5L145.8 272.5L143.3 276.9L141.3 278.7L138.3 279.9L135.3 280.0L130.3 278.8L120.3 282.5ZM90.3 286.7L87.3 287.1L84.3 286.5L81.3 284.8L79.5 282.5L78.7 279.5L79.3 276.5L80.6 274.5L83.3 272.4L87.3 271.5L91.3 272.2L94.8 274.5L98.2 278.5L94.3 284.5L90.3 286.7Z"/><path fill="#acacac" d="M165.3 250.7L163.3 251.3L160.3 250.9L158.2 249.5L156.8 247.5L156.3 245.5L156.8 242.5L158.3 240.4L160.3 239.1L163.3 238.7L165.3 239.3L167.0 240.5L168.4 242.5L168.9 245.5L168.4 247.5L167.0 249.5L165.3 250.7ZM117.3 282.6L110.3 282.8L104.6 281.5L101.2 279.5L100.5 278.5L100.5 276.5L101.9 274.5L104.3 272.5L110.5 269.5L117.3 268.1L125.3 268.5L127.3 268.0L130.3 261.5L132.3 259.1L134.3 257.7L137.3 257.1L139.3 257.4L143.3 260.4L145.4 264.5L145.9 269.5L145.0 273.5L142.3 277.3L140.3 278.7L137.3 279.5L130.3 278.0L123.3 281.1L117.3 282.6ZM87.3 286.5L84.3 286.0L81.3 284.1L79.6 281.5L79.3 278.5L80.4 275.5L82.3 273.6L85.3 272.2L88.3 272.0L91.3 272.8L93.9 274.5L96.0 277.5L96.2 279.5L95.1 282.5L93.3 284.5L90.3 286.1L87.3 286.5Z"/><path fill="#b2b2b2" d="M164.3 250.7L161.3 250.8L159.3 250.0L157.8 248.5L156.8 246.5L156.7 244.5L157.3 242.3L158.7 240.5L161.3 239.2L163.3 239.1L165.3 239.7L167.3 241.3L168.4 243.5L168.0 247.5L166.5 249.5L164.3 250.7ZM120.3 281.6L113.3 282.5L107.3 281.8L102.5 279.5L101.7 278.5L101.6 276.5L102.8 274.5L105.2 272.5L111.3 269.7L118.3 268.5L127.3 269.0L128.3 267.8L130.8 261.5L134.3 258.2L138.3 257.6L142.3 259.9L144.7 263.5L145.6 268.5L144.5 273.5L142.3 276.7L140.3 278.2L137.3 279.0L130.3 277.2L120.3 281.6ZM90.3 285.6L88.3 286.0L85.3 285.8L82.5 284.5L80.6 282.5L79.8 280.5L80.0 277.5L81.3 275.1L83.3 273.5L86.3 272.5L89.3 272.6L92.3 273.9L94.7 276.5L95.4 278.5L94.9 281.5L93.3 283.7L90.3 285.6Z"/><path fill="#b9b9b9" d="M163.3 250.6L161.3 250.5L159.2 249.5L157.6 247.5L157.0 245.5L157.2 243.5L158.3 241.4L160.3 239.9L162.3 239.4L164.3 239.6L166.3 240.8L167.6 242.5L168.2 244.5L168.0 246.5L167.0 248.5L165.3 249.9L163.3 250.6ZM118.3 281.6L112.3 282.0L107.3 281.3L103.7 279.5L102.8 278.5L102.6 276.5L103.7 274.5L106.0 272.5L112.3 269.8L119.3 268.9L127.3 269.9L128.6 268.5L130.7 262.5L132.3 260.3L134.7 258.5L138.3 258.1L140.3 258.9L142.4 260.5L144.7 264.5L145.2 268.5L144.3 273.0L141.9 276.5L139.3 278.1L137.3 278.5L135.3 278.2L131.3 276.5L129.3 276.5L124.3 279.6L118.3 281.6ZM88.3 285.5L85.3 285.3L83.3 284.5L81.3 282.6L80.3 280.5L80.4 277.5L81.5 275.5L83.3 274.0L86.3 272.9L89.3 273.1L91.3 273.8L93.3 275.5L94.7 278.5L94.6 280.5L93.3 283.0L91.3 284.6L88.3 285.5Z"/><path fill="#bfbfbf" d="M165.3 249.5L163.3 250.2L161.3 250.1L159.3 249.1L158.0 247.5L157.4 245.5L157.6 243.5L158.7 241.5L160.3 240.3L162.3 239.7L164.3 240.0L167.2 242.5L167.8 244.5L167.6 246.5L165.3 249.5ZM115.3 281.5L110.3 281.4L106.3 280.3L103.9 278.5L103.5 277.5L103.9 275.5L107.3 272.3L114.3 269.8L120.3 269.4L127.3 270.9L128.3 270.6L131.2 262.5L133.3 259.9L135.3 258.7L139.3 258.8L142.7 261.5L144.6 265.5L144.8 269.5L143.6 273.5L141.3 276.4L139.3 277.6L136.3 277.9L130.3 275.4L129.3 275.4L123.3 279.5L115.3 281.5ZM90.3 284.6L88.3 285.1L85.3 284.9L81.8 282.5L80.8 280.5L80.7 278.5L81.4 276.5L83.3 274.5L86.3 273.3L89.2 273.5L91.5 274.5L93.4 276.5L94.2 278.5L93.7 281.5L92.3 283.3L90.3 284.6Z"/><path fill="#c6c6c6" d="M164.3 249.6L162.3 249.9L160.3 249.3L157.9 246.5L157.7 244.5L158.4 242.5L161.3 240.3L164.5 240.5L166.3 241.8L167.3 243.5L167.5 245.5L166.8 247.5L164.3 249.6ZM140.3 276.6L138.3 277.3L135.3 277.2L130.7 274.5L128.7 272.5L131.1 263.5L133.3 260.5L135.3 259.2L138.3 259.0L140.3 259.8L143.0 262.5L144.2 265.5L144.5 268.5L144.0 271.5L142.5 274.5L140.3 276.6ZM118.3 280.6L113.3 281.1L108.3 280.4L105.1 278.5L104.6 277.5L104.8 275.5L106.5 273.5L109.3 271.8L116.3 270.0L123.6 270.5L128.0 272.5L129.0 273.5L126.6 276.5L124.3 278.4L118.3 280.6ZM88.3 284.7L84.3 284.0L82.3 282.5L81.3 280.5L81.2 278.5L81.9 276.5L83.3 275.0L85.3 274.0L88.3 273.8L90.3 274.3L92.0 275.5L93.3 277.5L93.5 280.5L92.4 282.5L90.3 284.1L88.3 284.7Z"/><path fill="#cccccc" d="M162.3 249.5L159.3 248.1L158.3 246.5L158.1 244.5L159.8 241.5L161.3 240.7L163.3 240.5L166.3 242.4L167.1 245.5L165.5 248.5L162.3 249.5ZM139.3 276.5L137.3 276.9L134.3 276.2L130.9 273.5L130.2 271.5L130.5 266.5L131.5 263.5L134.0 260.5L136.3 259.4L139.3 259.8L141.3 261.1L143.1 263.5L144.0 266.5L144.1 269.5L143.2 272.5L141.3 275.2L139.3 276.5ZM115.3 280.6L111.3 280.5L107.8 279.5L105.7 277.5L105.9 275.5L109.3 272.4L116.3 270.5L122.3 270.8L125.3 272.2L126.5 273.5L126.2 275.5L123.3 278.2L120.3 279.6L115.3 280.6ZM90.3 283.6L86.3 284.2L83.0 282.5L81.8 280.5L81.6 278.5L83.3 275.6L85.3 274.5L88.3 274.2L90.3 274.9L92.2 276.5L93.1 278.5L92.9 280.5L91.7 282.5L90.3 283.6Z"/><path fill="#d2d2d2" d="M164.3 248.7L161.3 248.9L159.3 247.5L158.8 246.5L158.8 243.5L160.4 241.5L163.3 240.9L165.3 241.9L166.3 243.2L166.4 246.5L164.3 248.7ZM139.3 276.0L137.3 276.4L134.3 275.6L131.8 273.5L130.9 271.5L130.8 267.5L131.5 264.5L133.5 261.5L136.3 259.9L139.3 260.3L141.1 261.5L142.7 263.5L143.6 266.5L143.7 269.5L142.8 272.5L141.3 274.6L139.3 276.0ZM118.3 279.5L114.3 280.0L110.0 279.5L107.0 277.5L107.1 275.5L109.3 273.3L114.3 271.4L120.3 271.2L124.0 272.5L125.2 274.5L124.2 276.5L121.3 278.5L118.3 279.5ZM89.3 283.5L85.3 283.5L82.8 281.5L82.1 278.5L83.1 276.5L84.3 275.4L86.3 274.7L88.3 274.6L90.5 275.5L92.3 277.5L92.3 280.8L91.0 282.5L89.3 283.5Z"/><path fill="#d9d9d9" d="M163.3 248.6L160.3 247.9L159.0 245.5L159.9 242.5L162.3 241.3L165.3 242.5L166.3 244.5L165.3 247.5L163.3 248.6ZM138.3 275.8L136.3 275.8L133.6 274.5L131.9 272.5L131.3 270.5L131.4 266.5L132.3 263.8L134.3 261.4L136.3 260.4L138.3 260.4L140.5 261.5L142.2 263.5L143.3 266.5L143.3 269.5L142.3 272.5L140.3 274.9L138.3 275.8ZM118.3 278.7L114.3 279.2L110.3 278.5L108.8 277.5L108.6 275.5L110.6 273.5L113.3 272.4L117.3 271.8L121.7 272.5L123.1 273.5L123.3 275.5L121.3 277.5L118.3 278.7ZM89.3 283.0L86.3 283.3L83.4 281.5L82.7 278.5L84.3 276.0L86.3 275.1L88.3 275.1L91.3 276.9L92.0 278.5L91.8 280.5L89.3 283.0Z"/><path fill="#dfdfdf" d="M164.3 247.7L161.3 247.9L159.8 246.5L159.4 244.5L160.6 242.5L163.3 241.9L165.3 243.3L165.8 245.5L164.3 247.7ZM139.3 274.9L137.3 275.4L134.4 274.5L132.5 272.5L131.8 270.5L131.6 267.5L132.4 264.5L134.3 262.0L136.3 260.9L138.3 260.9L140.3 261.9L141.7 263.5L142.9 266.5L142.4 271.5L141.1 273.5L139.3 274.9ZM117.3 277.6L112.3 277.5L111.2 276.5L111.2 275.5L112.1 274.5L114.3 273.4L119.6 273.5L120.7 274.5L120.7 275.5L119.8 276.5L117.3 277.6ZM88.3 282.8L85.3 282.5L83.3 280.2L83.6 277.5L86.3 275.6L89.3 276.0L90.3 276.6L91.5 278.5L91.3 280.4L90.6 281.5L88.3 282.8Z"/><path fill="#e6e6e6" d="M163.3 247.6L161.3 247.3L160.0 245.5L160.4 243.5L162.3 242.3L164.3 243.0L165.2 244.5L164.8 246.5L163.3 247.6ZM138.3 274.8L136.3 274.8L134.3 273.8L132.6 271.5L132.1 269.5L132.2 266.5L133.3 263.8L135.3 261.8L137.3 261.3L139.3 261.8L141.2 263.5L142.6 267.5L142.3 270.4L141.3 272.5L138.3 274.8ZM89.3 281.8L87.3 282.4L84.9 281.5L83.7 279.5L84.3 277.5L85.4 276.5L87.3 276.0L89.2 276.5L90.3 277.4L90.9 279.5L89.3 281.8Z"/><path fill="#ececec" d="M163.3 246.9L161.2 246.5L160.7 244.5L161.3 243.4L163.3 243.1L164.3 244.0L164.5 245.5L163.3 246.9ZM139.3 273.8L137.3 274.3L135.3 273.8L133.8 272.5L132.8 270.5L132.5 267.5L133.0 265.5L134.3 263.3L136.3 262.0L139.5 262.5L141.3 264.5L142.0 266.5L141.8 270.5L140.7 272.5L139.3 273.8ZM88.3 281.6L86.3 281.6L84.8 280.5L84.5 278.5L85.3 277.3L87.3 276.6L89.5 277.5L90.2 279.5L89.8 280.5L88.3 281.6Z"/><path fill="#f2f2f2" d="M163.3 245.7L162.3 245.9L161.8 244.5L163.3 244.3L163.3 245.7ZM138.3 273.6L136.3 273.6L134.5 272.5L133.3 270.5L133.0 268.5L133.3 265.9L134.3 264.0L135.3 263.1L137.3 262.4L140.3 263.9L141.7 267.5L140.8 271.5L138.3 273.6ZM88.3 280.8L86.3 280.8L85.3 279.6L85.4 278.5L86.3 277.6L87.9 277.5L89.2 278.5L89.4 279.5L88.3 280.8Z"/><path fill="#f9f9f9" d="M138.3 272.9L135.3 272.4L133.9 270.5L133.4 268.5L134.3 265.0L135.3 263.8L137.3 263.0L139.0 263.5L140.1 264.5L141.3 267.5L140.3 271.4L138.3 272.9Z"/><path fill="#ffffff" d="M139.3 271.6L138.3 272.2L136.3 272.2L134.3 270.0L134.2 266.5L136.3 263.9L138.3 263.9L140.3 265.9L140.5 269.5L139.3 271.6Z"/></g></g>
<rect x="172.2" y="189" width="1.3" height="130.2" fill="#a8a8a8"/>
<rect x="173.7" y="189.25" width="3.6" height="130.2" fill="url(#cbar)" stroke="#402830" stroke-width="0.5"/>
<path d="M24.8 292.5h2M24.8 241.5h2M24.8 189.5h2M25.6 266.5h1.2M25.6 215.5h1.2M44.5 319.2v2M98.5 319.2v2M151.5 319.2v2M71.5 319.2v1.2M124.5 319.2v1.2" stroke="#333333" stroke-width="1" fill="none"/>
<g font-size="10.8" fill="#1a1a1a"><text x="24" y="295.95" text-anchor="end" font-size="11">10</text><text x="24" y="244.35" text-anchor="end" font-size="11">20</text><text x="24" y="192.75" text-anchor="end" font-size="11">30</text><text x="45" y="330.6" text-anchor="middle">600</text><text x="98.4" y="330.6" text-anchor="middle">630</text><text x="151.8" y="330.6" text-anchor="middle">660</text></g>
<text x="101.7" y="343.6" font-size="14.5" fill="#111" stroke="#111" stroke-width="0.15" text-anchor="middle" textLength="82.8" lengthAdjust="spacingAndGlyphs">polarity (nm)</text>
<text transform="translate(10.1 246) rotate(-90)" font-size="12.6" fill="#111" stroke="#111" stroke-width="0.15" text-anchor="middle" textLength="46" lengthAdjust="spacingAndGlyphs">std (nm)</text>
<g font-size="33" fill="#fff"><text x="140.55" y="218.8">e</text><text x="159.9" y="218.8">)</text></g>
<g clip-path="url(#hc1)"><g filter="url(#cm)"><rect x="217.10" y="185.00" width="153.40" height="138.20" fill="#000"/><path fill="#060606" d="M293.6 211.6L287.6 211.9L282.6 211.3L278.6 210.3L274.6 208.5L271.8 206.5L269.7 203.5L269.1 200.5L270.2 197.5L272.6 194.9L275.6 193.0L280.6 191.1L284.6 190.4L290.6 190.1L295.6 190.7L299.6 191.7L303.6 193.5L306.4 195.5L308.5 198.5L309.1 201.5L308.0 204.5L305.6 207.1L302.6 209.0L297.6 210.9L293.6 211.6ZM265.6 238.5L259.6 238.7L252.6 238.0L247.6 236.8L242.2 234.5L238.2 231.5L236.2 228.5L235.7 225.5L236.7 222.5L239.6 219.2L244.6 216.3L251.6 214.2L258.6 213.3L266.6 213.6L273.6 214.9L279.6 217.3L284.0 220.5L286.0 223.5L286.5 226.5L285.5 229.5L284.0 231.5L280.6 234.2L276.6 236.1L270.6 237.8L265.6 238.5ZM296.6 312.5L276.6 313.0L256.6 311.9L237.6 309.2L221.6 305.2L221.6 268.1L228.7 260.5L233.6 256.4L240.6 252.1L249.6 248.0L258.6 245.0L270.6 242.2L294.7 239.5L303.1 229.5L308.3 224.5L315.6 219.7L322.6 216.8L332.6 214.9L343.6 215.4L353.6 218.3L362.6 223.5L367.6 227.9L367.6 292.0L363.6 295.8L358.2 299.5L351.6 302.7L344.6 305.0L320.6 310.0L296.6 312.5Z"/><path fill="#0d0d0d" d="M294.6 208.7L290.6 209.3L285.6 209.1L278.6 207.0L276.3 205.5L274.6 203.5L273.9 200.5L274.6 198.5L276.3 196.5L278.6 195.0L285.6 192.9L292.6 192.9L299.6 195.0L301.9 196.5L303.6 198.5L304.3 200.5L304.1 202.5L302.9 204.5L300.6 206.4L294.6 208.7ZM264.6 235.5L254.6 235.1L246.8 232.5L244.0 230.5L242.4 228.5L241.8 226.5L242.4 223.5L245.2 220.5L248.6 218.6L253.6 217.1L258.6 216.4L263.6 216.4L269.6 217.3L274.6 219.1L278.2 221.5L279.8 223.5L280.4 226.5L279.8 228.5L278.2 230.5L272.6 233.8L264.6 235.5ZM296.6 306.5L278.6 307.1L260.6 306.1L244.6 303.6L231.6 299.9L226.0 297.5L221.6 294.8L221.6 279.1L224.5 275.5L228.3 266.5L233.6 260.3L242.6 254.1L256.6 248.0L264.6 245.7L274.6 243.8L296.6 241.9L300.6 237.6L303.6 235.7L306.6 234.8L313.6 234.5L322.6 228.8L331.6 226.2L338.6 226.0L345.6 227.3L351.6 229.8L357.2 233.5L363.5 240.5L367.6 248.9L367.6 269.1L364.8 275.5L360.6 281.5L355.6 286.6L349.6 291.3L343.6 294.9L336.6 298.0L327.6 301.1L317.6 303.6L296.6 306.5Z"/><path fill="#131313" d="M294.6 206.5L287.6 207.2L281.6 205.8L279.5 204.5L277.9 202.5L277.9 199.5L280.6 196.8L285.6 195.0L291.6 194.9L296.6 196.2L299.7 198.5L300.6 201.5L298.7 204.5L294.6 206.5ZM267.6 232.6L259.6 233.3L251.6 231.6L247.3 228.5L246.4 226.5L246.7 224.5L248.2 222.5L250.6 220.9L256.6 219.0L263.6 218.8L270.6 220.4L274.9 223.5L275.8 226.5L274.9 228.5L273.6 229.8L270.8 231.5L267.6 232.6ZM287.6 302.5L271.6 302.4L256.6 300.7L244.6 297.9L235.6 293.7L232.8 291.5L230.7 288.5L228.2 279.5L228.4 272.5L230.8 266.5L234.6 261.9L239.6 257.9L246.6 254.0L253.6 250.9L262.6 248.0L272.6 245.7L282.6 244.4L297.0 243.5L298.5 242.5L301.6 238.8L305.6 236.7L308.6 236.5L311.6 237.4L317.6 242.1L319.2 241.5L324.6 237.7L328.6 236.0L333.6 234.9L338.6 234.9L342.6 235.6L346.6 237.2L350.6 239.6L353.9 242.5L356.9 246.5L358.8 250.5L360.1 255.5L360.3 260.5L359.5 265.5L357.9 269.5L355.5 273.5L351.9 277.5L346.6 281.3L336.8 286.5L327.4 293.5L321.2 296.5L314.6 298.7L306.5 300.5L287.6 302.5Z"/><path fill="#1a1a1a" d="M293.6 204.6L288.6 205.3L284.6 204.6L281.6 202.5L281.2 200.5L282.6 198.5L285.6 197.1L289.6 196.7L293.6 197.4L296.6 199.5L297.0 201.5L295.6 203.5L293.6 204.6ZM265.6 230.5L260.6 231.1L255.6 230.2L252.3 228.5L251.4 227.5L251.0 225.5L252.6 223.3L256.6 221.5L261.6 220.9L266.6 221.8L269.9 223.5L270.8 224.5L271.2 226.5L269.6 228.7L265.6 230.5ZM287.6 298.6L256.6 298.3L249.6 297.0L241.6 293.8L237.6 291.2L234.8 288.5L230.9 282.5L229.8 278.5L229.6 274.5L230.2 271.5L231.8 267.5L234.8 263.5L239.6 259.4L245.6 256.0L254.6 252.1L263.6 249.1L273.6 246.9L297.6 244.6L298.6 244.1L302.6 239.5L306.6 237.9L309.6 238.1L311.6 238.9L313.6 240.6L316.6 245.0L319.6 246.4L325.6 246.8L332.6 244.3L337.6 244.0L343.6 245.9L347.8 249.5L349.7 252.5L350.8 255.5L351.0 261.5L348.6 267.5L344.8 271.5L325.6 286.0L315.6 292.2L310.6 294.3L303.6 296.3L287.6 298.6Z"/><path fill="#202020" d="M289.6 202.6L286.6 201.9L286.2 200.5L287.6 199.5L289.6 199.4L292.0 200.5L291.6 201.9L289.6 202.6ZM263.6 227.5L260.6 227.9L258.6 227.5L257.3 226.5L257.3 225.5L259.6 224.2L263.6 224.5L264.9 225.5L264.9 226.5L263.6 227.5ZM272.6 296.5L261.6 297.4L253.6 296.9L244.6 294.2L237.6 289.7L233.2 284.5L231.8 281.5L230.8 277.5L230.9 273.5L231.7 270.5L235.2 264.5L238.6 261.3L243.6 258.1L258.6 252.0L265.6 249.8L274.6 247.9L297.9 245.5L299.6 244.6L303.6 240.1L307.6 238.9L309.6 239.3L311.8 240.5L313.6 242.5L315.6 246.1L317.6 247.7L325.6 249.1L329.6 250.9L331.5 252.5L336.9 259.5L338.1 262.5L338.3 265.5L337.4 269.5L336.1 272.5L330.4 279.5L321.6 286.0L311.6 290.8L300.6 294.1L287.6 296.1L272.6 296.5Z"/><path fill="#262626" d="M263.6 296.5L254.6 296.2L245.6 293.8L238.7 289.5L234.3 284.5L231.9 278.5L231.8 274.5L232.3 271.5L235.5 265.5L241.6 260.2L250.6 256.0L268.6 250.2L278.6 248.4L298.6 246.2L300.0 245.5L303.6 241.3L306.6 240.0L309.6 240.4L311.6 241.6L315.0 247.5L316.6 249.0L325.6 250.3L327.9 251.5L329.8 253.5L331.0 258.5L334.1 264.5L334.1 269.5L333.1 272.5L330.6 276.5L327.9 279.5L323.6 282.9L312.6 288.7L299.6 292.7L289.6 294.4L274.6 295.2L263.6 296.5Z"/><path fill="#2d2d2d" d="M266.6 295.5L257.6 295.9L247.6 293.9L242.5 291.5L236.6 286.3L233.3 280.5L232.7 277.5L232.8 273.5L235.1 267.5L239.6 262.5L247.6 257.9L267.6 251.6L277.6 249.6L299.6 246.8L300.6 246.2L303.6 242.5L306.6 241.1L308.6 241.1L311.1 242.5L312.6 244.5L314.6 249.5L315.6 250.4L323.6 250.7L326.6 251.9L328.2 253.5L328.8 255.5L328.6 259.2L331.3 264.5L331.6 269.5L330.3 273.5L328.5 276.5L325.9 279.5L322.6 282.1L311.6 287.6L300.6 291.1L290.6 293.0L275.6 294.0L266.6 295.5Z"/><path fill="#333333" d="M268.6 294.6L259.6 295.4L251.6 294.4L244.6 292.2L238.7 287.5L236.2 284.5L234.5 281.5L233.4 275.5L234.8 269.5L238.4 264.5L244.6 260.0L252.6 256.9L273.6 251.4L299.9 247.5L301.6 246.5L304.6 242.9L306.6 242.1L308.6 242.2L310.8 243.5L312.0 245.5L314.0 251.5L315.6 251.9L322.6 251.4L324.6 252.0L326.7 253.5L327.3 255.5L326.2 259.5L329.1 265.5L329.2 270.5L327.0 276.5L322.6 281.0L314.6 285.2L300.6 289.9L290.6 291.8L276.6 292.9L268.6 294.6Z"/><path fill="#393939" d="M264.6 294.6L256.6 294.6L246.6 292.7L242.9 290.5L237.0 284.5L234.4 278.5L234.6 272.5L235.7 269.5L237.6 266.5L242.6 261.9L250.6 258.2L270.6 253.2L300.6 248.1L301.8 247.5L304.6 244.1L306.6 243.1L308.6 243.3L310.6 244.9L311.7 247.5L312.6 253.0L314.6 253.6L318.6 252.4L321.6 252.2L323.6 252.7L325.6 254.4L325.5 256.5L323.8 259.5L326.7 265.5L327.3 272.5L325.2 277.5L321.6 280.8L315.6 283.9L299.6 288.9L290.6 290.6L277.6 291.8L264.6 294.6Z"/><path fill="#404040" d="M267.6 293.5L258.6 294.2L246.6 292.3L243.5 290.5L239.6 286.5L236.1 281.5L234.9 275.5L235.3 272.5L236.4 269.5L240.3 264.5L245.6 260.9L252.6 258.2L289.6 250.5L301.6 248.8L304.6 245.5L306.6 244.3L308.6 244.5L310.3 246.5L310.9 249.5L310.3 253.5L311.6 254.8L314.6 255.6L320.6 253.3L322.3 253.5L323.7 254.5L323.4 256.5L320.9 258.5L320.6 259.5L324.6 266.2L325.8 269.5L326.2 272.5L324.9 276.5L321.0 280.5L315.6 283.2L298.6 287.9L290.6 289.4L278.6 290.6L267.6 293.5Z"/><path fill="#464646" d="M263.6 293.6L256.6 293.5L246.6 291.9L244.1 290.5L237.6 282.8L235.7 277.5L235.7 274.5L236.3 271.5L239.2 266.5L244.6 262.1L249.6 259.7L254.6 258.3L266.6 256.5L293.6 250.6L301.6 249.9L303.6 248.9L305.6 246.3L307.6 245.7L308.8 246.5L309.6 248.5L309.4 250.5L307.7 254.5L308.7 255.5L315.1 258.5L317.6 260.4L322.6 266.2L325.0 270.5L325.0 274.5L323.4 277.5L320.0 280.5L315.6 282.6L294.3 287.5L279.6 289.4L269.6 292.5L263.6 293.6Z"/><path fill="#4c4c4c" d="M306.6 250.6L305.4 250.5L306.6 248.5L307.3 249.5L306.6 250.6ZM266.6 292.6L258.6 293.1L247.6 291.9L245.6 291.2L243.6 289.5L238.2 282.5L236.5 277.5L236.4 274.5L237.1 271.5L238.5 268.5L241.0 265.5L246.6 261.6L253.6 259.1L279.6 255.1L293.8 251.5L299.6 251.2L302.1 251.5L303.6 252.3L303.2 254.5L303.8 255.5L314.6 261.1L321.6 266.8L324.1 270.5L324.3 274.5L322.7 277.5L319.6 280.2L315.6 282.1L310.6 283.4L301.6 284.3L291.6 286.5L281.6 287.8L266.6 292.6Z"/><path fill="#535353" d="M262.6 292.6L247.6 291.5L245.6 290.9L244.0 289.5L238.4 281.5L237.4 278.5L237.0 275.5L238.2 270.5L241.6 265.8L246.6 262.2L250.6 260.6L255.6 259.3L272.6 257.1L281.6 256.5L291.3 253.5L296.6 252.8L298.4 253.5L298.3 255.5L298.8 256.5L306.6 259.6L317.6 265.0L321.1 267.5L323.3 270.5L323.8 273.5L322.7 276.5L319.7 279.5L315.6 281.6L309.6 283.0L298.6 283.3L283.6 285.8L270.6 291.0L262.6 292.6Z"/><path fill="#595959" d="M265.6 291.6L259.6 292.1L251.6 291.1L247.6 291.3L244.4 289.5L242.6 286.0L239.2 281.5L237.8 276.5L237.9 273.5L238.9 270.5L242.7 265.5L247.6 262.3L253.6 260.3L270.6 258.0L275.6 257.8L283.6 259.1L293.6 259.4L312.6 263.8L319.6 267.0L322.1 269.5L323.0 271.5L323.0 274.5L322.1 276.5L319.6 279.0L315.6 281.1L307.6 282.6L294.6 281.4L286.6 282.7L283.6 283.8L272.9 289.5L265.6 291.6Z"/><path fill="#606060" d="M260.6 291.5L252.6 290.6L247.6 291.0L244.9 289.5L243.0 285.5L240.0 281.5L238.8 278.5L238.6 273.5L240.1 269.5L242.5 266.5L244.9 264.5L248.6 262.5L252.6 261.0L271.6 258.5L275.6 258.6L278.5 259.5L280.8 261.5L281.6 264.8L285.3 269.5L286.2 274.5L285.3 278.5L281.2 283.5L275.5 287.5L268.0 290.5L260.6 291.5ZM312.6 281.5L308.6 282.1L303.6 281.9L299.6 281.2L295.3 279.5L292.4 277.5L290.8 275.5L290.1 273.5L290.7 270.5L292.6 268.0L295.6 265.9L301.6 264.2L309.6 264.0L316.6 265.9L319.3 267.5L321.4 269.5L322.4 271.5L322.4 274.5L321.4 276.5L319.5 278.5L316.6 280.2L312.6 281.5Z"/><path fill="#666666" d="M264.6 290.6L258.6 290.9L252.6 290.0L248.6 290.8L245.6 289.8L244.6 288.5L243.6 285.2L240.9 281.5L239.6 278.5L239.2 274.5L239.9 271.5L241.5 268.5L244.5 265.5L247.6 263.5L251.6 261.9L270.6 259.1L276.0 259.5L278.7 261.5L279.0 265.5L283.2 270.5L283.1 276.5L282.3 279.5L279.5 283.5L275.7 286.5L270.6 289.0L264.6 290.6ZM309.6 281.5L301.6 281.0L295.8 278.5L293.8 276.5L292.8 274.5L292.9 271.5L293.9 269.5L298.6 266.1L305.6 264.6L313.6 265.3L317.6 267.0L319.6 268.4L321.4 270.5L322.0 272.5L321.9 274.5L320.8 276.5L316.6 279.7L309.6 281.5Z"/><path fill="#6c6c6c" d="M266.6 289.5L259.6 290.3L252.6 289.4L248.6 290.5L245.7 289.5L244.6 287.5L244.0 284.5L241.2 280.5L239.9 276.5L240.6 271.5L243.1 267.5L247.6 264.1L254.6 261.6L271.6 259.5L274.6 259.8L276.6 260.7L277.7 262.5L277.5 265.5L278.0 266.5L280.6 268.5L282.1 270.5L282.2 272.5L280.8 279.5L279.0 282.5L275.8 285.5L271.6 287.9L266.6 289.5ZM312.6 280.6L304.6 281.0L300.6 280.1L297.6 278.8L294.9 276.5L293.9 274.5L293.8 272.5L294.5 270.5L296.2 268.5L298.6 266.9L304.6 265.1L311.6 265.3L317.6 267.5L320.8 270.5L321.5 272.5L321.3 274.5L318.6 278.0L312.6 280.6Z"/><path fill="#737373" d="M261.6 289.6L252.6 288.7L248.6 290.2L246.1 289.5L245.0 287.5L244.9 284.5L242.0 280.5L240.8 277.5L240.6 274.5L241.2 271.5L243.0 268.5L245.0 266.5L247.9 264.5L251.6 262.9L269.6 260.1L274.6 260.5L276.6 262.5L276.7 266.5L279.6 268.5L281.3 270.5L281.4 272.5L279.5 279.5L276.8 283.5L272.7 286.5L267.6 288.6L261.6 289.6ZM310.6 280.6L303.6 280.4L297.6 278.1L295.9 276.5L294.8 274.5L294.6 272.5L295.3 270.5L297.2 268.5L299.6 267.0L304.6 265.6L311.6 265.7L317.6 268.0L319.5 269.5L320.7 271.5L321.0 273.5L320.3 275.5L316.6 278.8L310.6 280.6Z"/><path fill="#797979" d="M249.6 289.7L247.6 289.8L245.6 288.5L245.3 287.5L245.8 284.5L242.8 280.5L241.5 277.5L241.6 272.5L243.7 268.5L247.6 265.3L253.6 262.9L269.6 260.6L272.6 260.6L274.8 261.5L275.6 262.6L275.5 266.5L279.9 269.5L280.8 271.5L278.2 279.5L276.3 282.5L272.6 285.5L266.6 288.0L259.6 288.8L252.6 288.0L249.6 289.7ZM313.6 279.6L306.6 280.4L300.6 279.1L297.8 277.5L295.9 275.5L295.3 273.5L295.6 271.5L296.9 269.5L298.6 268.1L303.6 266.2L309.6 265.8L315.6 267.3L319.6 270.4L320.4 273.5L318.6 276.9L313.6 279.6Z"/><path fill="#808080" d="M248.6 289.6L247.5 289.5L246.1 288.5L245.8 286.5L246.7 284.5L243.1 279.5L242.0 276.5L242.2 272.5L244.4 268.5L248.6 265.2L253.6 263.4L269.6 261.1L273.6 261.7L274.7 263.5L274.3 266.5L279.1 269.5L280.2 271.5L276.9 279.5L274.8 282.5L270.8 285.5L266.6 287.1L259.6 288.0L252.6 287.1L248.6 289.6ZM311.6 279.7L305.6 279.9L299.6 278.1L297.4 276.5L296.1 274.5L295.9 272.5L296.8 270.5L300.6 267.6L305.6 266.2L311.6 266.4L316.6 268.3L319.6 271.5L319.7 274.5L318.3 276.5L316.6 277.8L311.6 279.7Z"/><path fill="#868686" d="M249.6 288.8L247.6 289.1L246.5 288.5L246.3 286.5L248.0 284.5L243.9 279.5L242.7 276.5L242.8 272.5L245.1 268.5L249.6 265.3L254.6 263.6L269.6 261.6L271.6 261.7L273.2 262.5L273.7 263.5L273.2 266.5L273.6 267.1L278.4 269.5L279.6 271.5L279.1 273.5L274.2 281.5L270.6 284.4L266.6 286.1L259.6 287.1L251.6 286.1L249.6 288.8ZM309.6 279.6L303.6 279.2L298.6 276.9L297.3 275.5L296.5 273.5L297.4 270.5L300.6 268.0L306.6 266.5L312.6 267.0L316.6 268.7L319.1 271.5L319.4 273.5L318.6 275.5L314.6 278.4L309.6 279.6Z"/><path fill="#8c8c8c" d="M264.6 285.6L259.6 286.2L254.6 285.6L249.6 284.1L246.6 281.7L244.1 278.5L243.2 275.5L243.8 271.5L245.8 268.5L249.6 265.8L253.6 264.3L268.6 262.3L271.6 262.5L272.6 263.5L272.1 266.5L272.6 267.5L277.6 269.5L278.7 270.5L279.0 272.5L271.6 282.3L268.6 284.2L264.6 285.6ZM312.6 278.7L306.6 279.3L300.6 277.7L298.8 276.5L297.4 274.5L297.4 271.5L300.4 268.5L304.6 267.1L309.6 266.8L314.6 268.0L318.0 270.5L318.9 273.5L317.1 276.5L312.6 278.7ZM248.6 288.8L247.2 288.5L246.6 287.5L246.9 286.5L248.6 285.5L249.6 285.7L250.1 286.5L250.1 287.5L248.6 288.8Z"/><path fill="#939393" d="M264.6 284.6L260.6 285.3L255.6 285.1L251.6 284.0L247.6 281.7L244.8 278.5L243.8 275.5L244.0 272.5L245.6 269.5L249.2 266.5L253.6 264.7L268.6 263.0L270.9 263.5L271.3 267.5L277.6 270.0L278.6 271.5L278.5 272.5L270.8 281.5L267.7 283.5L264.6 284.6ZM311.6 278.6L305.6 278.8L301.1 277.5L299.5 276.5L297.9 274.5L298.0 271.5L300.6 268.9L304.6 267.4L309.6 267.1L314.8 268.5L316.6 269.7L318.0 271.5L318.1 274.5L315.6 277.1L311.6 278.6ZM248.6 288.2L247.3 287.5L247.6 286.6L248.9 286.5L249.3 287.5L248.6 288.2Z"/><path fill="#999999" d="M260.6 284.5L256.6 284.5L252.6 283.7L248.6 281.7L246.2 279.5L244.6 276.5L244.4 273.5L245.5 270.5L247.6 268.1L250.6 266.2L254.6 264.9L267.6 264.0L269.3 264.5L269.6 266.5L270.6 267.9L275.6 269.4L277.5 270.5L278.0 271.5L277.4 273.5L273.8 276.5L269.6 281.2L265.6 283.4L260.6 284.5ZM309.6 278.6L304.6 278.3L300.2 276.5L298.2 273.5L299.2 270.5L302.1 268.5L306.6 267.4L311.6 267.8L315.7 269.5L317.8 272.5L316.9 275.5L314.0 277.5L309.6 278.6Z"/><path fill="#9f9f9f" d="M262.6 283.6L258.6 284.0L254.6 283.6L250.6 282.2L247.6 280.2L245.6 277.5L244.9 274.5L245.5 271.5L246.8 269.5L249.2 267.5L252.6 265.9L256.6 265.0L261.6 264.9L266.6 265.2L270.2 268.5L276.8 270.5L277.4 272.5L276.6 273.8L272.8 276.5L268.6 281.0L265.6 282.7L262.6 283.6ZM312.6 277.7L307.6 278.4L302.6 277.4L300.6 276.2L299.1 274.5L299.1 271.5L301.6 269.2L305.6 267.9L309.6 267.7L313.6 268.7L316.3 270.5L317.3 273.5L315.6 276.1L312.6 277.7Z"/><path fill="#a6a6a6" d="M263.6 282.7L259.6 283.4L255.6 283.3L251.6 282.1L248.8 280.5L246.8 278.5L245.5 275.5L245.7 272.5L246.6 270.5L248.6 268.4L251.6 266.7L255.6 265.5L259.6 265.3L265.6 266.0L269.6 268.8L274.6 269.9L276.6 271.1L276.9 272.5L275.6 274.1L271.9 276.5L267.6 280.9L263.6 282.7ZM311.6 277.6L306.6 278.0L301.7 276.5L299.6 274.5L299.3 272.5L299.7 271.5L301.7 269.5L305.6 268.2L310.6 268.2L314.4 269.5L316.4 271.5L316.8 273.5L315.6 275.6L311.6 277.6Z"/><path fill="#acacac" d="M261.6 282.7L257.6 283.0L254.6 282.6L251.3 281.5L248.4 279.5L246.8 277.5L245.9 274.5L246.6 271.5L248.0 269.5L250.6 267.6L253.6 266.3L260.6 265.7L264.6 266.4L269.6 269.4L274.6 270.3L276.3 271.5L275.7 273.5L271.0 276.5L267.6 280.1L264.6 281.8L261.6 282.7ZM310.6 277.5L306.6 277.7L302.5 276.5L300.2 274.5L299.8 272.5L300.2 271.5L302.5 269.5L305.6 268.5L309.6 268.4L313.6 269.5L315.9 271.5L316.3 273.5L314.6 275.9L310.6 277.5Z"/><path fill="#b2b2b2" d="M259.6 282.5L255.6 282.4L252.6 281.6L249.6 279.9L247.6 277.9L246.6 275.5L246.7 272.5L247.8 270.5L249.9 268.5L254.6 266.5L260.6 266.1L264.6 267.0L268.6 269.5L274.0 270.5L275.6 271.5L275.7 272.5L275.0 273.5L270.6 276.2L266.6 280.2L263.6 281.7L259.6 282.5ZM312.6 276.6L308.6 277.4L304.6 276.9L301.6 275.4L300.6 274.0L300.4 272.5L301.7 270.5L304.6 269.1L308.6 268.6L311.6 269.1L314.4 270.5L315.7 272.5L315.3 274.5L312.6 276.6Z"/><path fill="#b9b9b9" d="M262.6 281.5L259.6 282.1L255.6 282.0L252.6 281.1L249.8 279.5L247.9 277.5L247.1 275.5L247.2 272.5L248.3 270.5L252.6 267.5L255.6 266.6L259.6 266.4L263.6 267.1L268.6 270.0L274.8 271.5L275.0 272.5L274.3 273.5L270.6 275.6L266.6 279.6L262.6 281.5ZM311.6 276.6L307.6 277.1L304.3 276.5L301.4 274.5L301.0 272.5L302.4 270.5L304.6 269.4L308.6 268.9L311.8 269.5L314.7 271.5L315.2 273.5L313.8 275.5L311.6 276.6Z"/><path fill="#bfbfbf" d="M260.6 281.6L254.6 281.3L251.6 280.2L249.3 278.5L247.9 276.5L247.5 273.5L248.2 271.5L249.9 269.5L254.6 267.2L259.6 266.8L263.6 267.6L268.6 270.5L273.8 271.5L274.2 272.5L273.4 273.5L269.8 275.5L265.9 279.5L260.6 281.6ZM309.6 276.7L305.6 276.5L303.2 275.5L301.5 273.5L302.0 271.5L303.6 270.3L306.6 269.3L310.5 269.5L313.0 270.5L314.6 272.5L314.1 274.5L312.6 275.7L309.6 276.7Z"/><path fill="#c6c6c6" d="M262.6 280.7L256.6 281.3L251.2 279.5L249.0 277.5L248.1 275.5L248.0 273.5L248.7 271.5L250.5 269.5L252.6 268.3L258.6 267.1L263.6 268.1L268.6 271.1L271.6 271.5L273.2 272.5L269.6 275.0L265.6 279.2L262.6 280.7ZM311.6 275.7L308.6 276.4L304.6 275.8L302.7 274.5L302.2 272.5L303.6 270.8L305.6 269.9L308.6 269.6L311.6 270.3L313.4 271.5L314.0 273.5L313.4 274.5L311.6 275.7Z"/><path fill="#cccccc" d="M261.6 280.6L255.6 280.8L252.6 279.8L250.6 278.5L249.0 276.5L248.4 274.5L248.7 272.5L250.0 270.5L254.6 267.9L259.6 267.5L263.6 268.5L268.6 271.7L271.3 272.5L265.8 278.5L261.6 280.6ZM310.6 275.7L307.6 276.0L305.1 275.5L303.5 274.5L302.8 272.5L303.6 271.4L305.6 270.3L308.6 270.0L311.1 270.5L312.7 271.5L313.3 273.5L312.6 274.6L310.6 275.7Z"/><path fill="#d2d2d2" d="M259.6 280.6L254.6 280.2L252.6 279.4L250.2 277.5L249.1 275.5L249.0 273.5L249.8 271.5L251.6 269.7L255.6 268.0L260.6 268.0L264.5 269.5L268.5 272.5L268.9 273.5L265.6 278.0L262.6 279.9L259.6 280.6ZM308.6 275.6L306.6 275.5L304.3 274.5L303.6 273.5L303.6 272.5L304.3 271.5L307.6 270.4L309.6 270.5L311.9 271.5L312.6 272.5L312.6 273.5L311.9 274.5L308.6 275.6Z"/><path fill="#d9d9d9" d="M261.6 279.8L256.6 280.2L251.9 278.5L249.6 275.5L249.5 273.5L250.3 271.5L252.6 269.5L256.6 268.2L260.6 268.4L264.6 270.1L267.3 272.5L267.5 274.5L265.5 277.5L261.6 279.8ZM310.6 274.6L308.6 275.1L305.6 274.6L304.4 273.5L304.4 272.5L306.6 271.1L310.6 271.4L311.8 272.5L311.8 273.5L310.6 274.6Z"/><path fill="#dfdfdf" d="M260.6 279.7L255.6 279.7L251.6 277.7L249.9 274.5L250.9 271.5L253.6 269.4L257.6 268.5L261.6 269.0L264.6 270.6L266.9 273.5L266.4 275.5L263.6 278.5L260.6 279.7ZM308.6 274.6L305.6 273.6L305.5 272.5L307.6 271.4L310.6 272.4L310.7 273.5L308.6 274.6Z"/><path fill="#e6e6e6" d="M258.6 279.6L254.6 279.0L251.2 276.5L250.4 274.5L250.8 272.5L253.6 269.9L256.6 269.0L260.6 269.1L263.6 270.4L265.7 272.5L266.1 274.5L264.2 277.5L261.6 279.0L258.6 279.6ZM308.6 273.6L307.4 273.5L307.4 272.5L308.8 272.5L308.6 273.6Z"/><path fill="#ececec" d="M261.6 278.6L257.6 279.2L253.6 278.1L251.2 275.5L251.4 272.5L253.4 270.5L256.6 269.3L259.6 269.3L262.9 270.5L265.0 272.5L265.5 274.5L264.5 276.5L261.6 278.6Z"/><path fill="#f2f2f2" d="M259.6 278.7L255.6 278.5L252.4 276.5L251.6 273.5L252.8 271.5L255.6 270.0L258.6 269.6L261.6 270.3L263.6 271.6L264.8 273.5L264.5 275.5L262.7 277.5L259.6 278.7Z"/><path fill="#f9f9f9" d="M261.6 277.6L257.6 278.4L254.4 277.5L252.4 275.5L252.2 273.5L252.6 272.5L254.6 270.8L256.6 270.2L259.6 270.2L261.6 270.8L263.7 272.5L264.2 274.5L263.1 276.5L261.6 277.6Z"/><path fill="#ffffff" d="M260.6 277.5L257.6 277.9L254.6 277.0L252.8 274.5L253.3 272.5L254.6 271.4L257.6 270.5L261.8 271.5L262.9 272.5L263.5 274.5L262.4 276.5L260.6 277.5Z"/></g></g>
<rect x="366.5" y="189" width="1.3" height="130.2" fill="#a8a8a8"/>
<rect x="368" y="189.25" width="3.5" height="130.2" fill="url(#cbar)" stroke="#402830" stroke-width="0.5"/>
<path d="M219.1 292.5h2M219.1 241.5h2M219.1 189.5h2M219.9 266.5h1.2M219.9 215.5h1.2M238.5 319.2v2M292.5 319.2v2M345.5 319.2v2M265.5 319.2v1.2M319.5 319.2v1.2" stroke="#333333" stroke-width="1" fill="none"/>
<g font-size="10.8" fill="#1a1a1a"><text x="218.3" y="295.95" text-anchor="end" font-size="11">10</text><text x="218.3" y="244.35" text-anchor="end" font-size="11">20</text><text x="218.3" y="192.75" text-anchor="end" font-size="11">30</text><text x="239.3" y="330.6" text-anchor="middle">600</text><text x="292.7" y="330.6" text-anchor="middle">630</text><text x="346.1" y="330.6" text-anchor="middle">660</text></g>
<text x="296" y="343.6" font-size="14.5" fill="#111" stroke="#111" stroke-width="0.15" text-anchor="middle" textLength="82.8" lengthAdjust="spacingAndGlyphs">polarity (nm)</text>
<text transform="translate(204.4 246) rotate(-90)" font-size="12.6" fill="#111" stroke="#111" stroke-width="0.15" text-anchor="middle" textLength="46" lengthAdjust="spacingAndGlyphs">std (nm)</text>
<g font-size="33" fill="#fff"><text x="343.7" y="218.8">f</text><text x="353.7" y="218.8">)</text></g>
<g clip-path="url(#hc2)"><g filter="url(#cm)"><rect x="409.10" y="185.00" width="153.40" height="138.20" fill="#000"/><path fill="#060606" d="M500.6 216.5L491.6 215.9L486.6 214.1L483.6 212.3L481.5 209.5L480.5 206.5L481.0 203.5L482.2 201.5L484.6 199.2L488.6 197.1L496.6 195.4L504.6 196.1L508.6 197.4L512.3 199.5L514.3 201.5L515.8 204.5L515.8 207.5L514.3 210.5L511.6 213.0L508.6 214.6L500.6 216.5ZM481.6 317.5L463.6 317.7L445.6 316.4L429.6 313.7L413.6 309.4L413.6 242.5L421.6 240.1L431.6 238.0L458.0 234.5L455.4 228.5L452.6 227.0L442.6 228.6L436.6 228.7L428.6 227.2L423.6 224.8L420.4 221.5L419.8 218.5L421.0 215.5L424.7 212.5L430.6 210.3L436.6 209.3L443.6 209.5L451.6 211.1L462.6 208.6L467.6 208.4L473.6 209.1L481.6 212.2L483.6 213.9L485.2 216.5L485.5 220.5L482.4 225.5L482.6 229.5L481.1 233.5L481.6 233.9L485.6 234.2L487.2 233.5L487.2 230.5L488.2 227.5L490.6 224.5L493.6 222.5L499.6 220.6L506.6 220.6L512.6 222.4L516.9 225.5L519.0 229.5L518.6 235.6L544.6 239.8L553.6 242.3L559.6 244.8L559.6 255.5L556.5 257.5L555.0 259.5L559.6 266.0L559.6 297.1L557.0 300.5L553.2 303.5L548.6 305.9L535.6 310.1L498.6 315.9L481.6 317.5Z"/><path fill="#0d0d0d" d="M501.6 213.7L497.6 213.9L493.6 213.4L490.6 212.5L487.6 210.7L485.7 208.5L485.0 206.5L485.2 204.5L486.4 202.5L490.6 199.5L496.6 198.1L503.6 198.7L508.6 201.1L511.2 204.5L511.4 206.5L510.8 208.5L507.6 211.6L501.6 213.7ZM472.6 234.5L467.6 234.9L463.2 233.5L460.1 230.5L459.4 226.5L452.6 223.1L446.6 225.3L441.6 226.2L435.6 226.1L430.6 224.9L427.8 223.5L425.6 221.5L424.7 219.5L425.0 217.5L426.5 215.5L429.6 213.5L436.6 211.8L444.6 212.2L452.6 214.9L458.6 212.2L463.6 211.2L469.6 211.3L474.6 212.5L479.3 215.5L480.5 217.5L480.8 219.5L480.1 221.5L477.5 224.5L478.6 228.5L478.4 230.5L476.6 232.7L472.6 234.5ZM474.6 308.5L457.6 308.1L440.6 305.8L425.6 301.7L413.6 296.4L413.6 257.5L417.0 254.5L417.1 250.5L418.9 247.5L422.0 245.5L427.6 243.3L443.6 239.7L468.6 237.3L492.6 236.8L493.6 236.5L491.3 231.5L491.5 229.5L492.5 227.5L494.7 225.5L497.6 224.0L503.6 223.1L507.6 223.6L510.6 224.8L513.1 226.5L514.5 228.5L515.1 230.5L514.9 232.5L511.6 237.5L529.6 240.3L539.6 242.5L547.8 245.5L551.5 248.5L551.9 249.5L551.5 251.5L549.5 253.5L545.9 255.5L534.9 259.5L533.5 260.5L533.6 261.6L537.9 266.5L540.5 270.5L541.9 275.5L542.1 282.5L548.3 291.5L548.6 294.5L548.0 296.5L544.6 300.2L540.8 302.5L535.7 304.5L523.6 307.0L513.6 307.6L494.6 307.3L474.6 308.5Z"/><path fill="#131313" d="M500.6 211.6L495.1 211.5L490.6 209.6L488.6 206.5L489.5 203.5L492.6 201.3L497.6 200.2L502.6 200.8L506.0 202.5L507.6 204.5L507.6 207.5L504.6 210.4L500.6 211.6ZM470.6 232.7L467.6 232.6L464.7 231.5L463.2 229.5L464.3 225.5L459.5 223.5L456.6 221.5L455.5 218.5L457.7 215.5L462.6 213.5L467.6 213.2L472.6 214.3L475.9 216.5L476.9 218.5L476.5 220.5L472.2 224.5L474.8 227.5L475.2 229.5L473.8 231.5L470.6 232.7ZM444.6 223.6L438.6 224.3L433.6 223.5L429.8 221.5L429.0 220.5L428.6 218.5L430.6 215.9L434.6 214.2L439.6 213.7L444.9 214.5L448.7 216.5L450.0 218.5L450.0 219.5L448.6 221.6L444.6 223.6ZM505.6 236.7L500.6 236.6L496.6 234.8L495.4 233.5L494.5 231.5L495.4 228.5L498.6 226.1L502.6 225.2L506.6 225.6L510.2 227.5L511.7 229.5L511.7 232.5L509.6 235.0L505.6 236.7ZM520.6 303.6L508.6 303.6L488.6 301.0L465.6 302.4L450.6 302.2L441.6 301.1L433.6 299.1L422.6 294.2L417.7 290.5L414.1 286.5L413.6 285.6L413.6 267.7L416.3 263.5L418.6 261.1L422.6 258.2L428.2 255.5L429.0 254.5L426.3 250.5L426.9 248.5L427.9 247.5L433.8 244.5L444.6 241.8L456.6 240.1L469.6 239.0L500.6 238.9L521.6 241.1L536.2 244.5L542.1 247.5L543.0 248.5L543.5 250.5L542.1 252.5L539.6 254.1L529.6 257.6L528.4 258.5L530.9 266.5L531.3 269.5L530.4 273.5L526.7 281.5L528.0 283.5L537.4 289.5L539.0 291.5L539.6 294.5L538.0 297.5L533.6 300.4L527.6 302.4L520.6 303.6Z"/><path fill="#1a1a1a" d="M499.6 209.5L496.6 209.5L493.9 208.5L492.3 206.5L492.8 204.5L494.6 203.1L497.6 202.4L500.6 202.7L502.6 203.5L504.2 205.5L503.7 207.5L502.6 208.5L499.6 209.5ZM467.6 222.6L464.6 222.5L461.4 221.5L459.7 219.5L460.2 217.5L461.6 216.4L464.6 215.5L467.9 215.5L471.0 216.5L472.8 218.5L472.6 219.9L471.0 221.5L467.6 222.6ZM443.6 221.5L439.6 222.3L435.6 221.8L433.3 220.5L432.7 218.5L433.6 217.3L436.6 216.0L439.6 215.7L442.6 216.2L444.6 217.1L445.8 218.5L445.2 220.5L443.6 221.5ZM504.6 234.5L501.6 234.5L499.3 233.5L497.9 231.5L498.3 229.5L499.6 228.3L502.6 227.4L504.6 227.5L507.1 228.5L508.2 229.5L508.6 231.6L507.1 233.5L504.6 234.5ZM467.6 300.7L463.6 301.1L447.6 300.4L435.6 298.1L429.6 295.9L423.6 292.9L419.1 289.5L415.9 285.5L414.2 281.5L413.6 276.5L414.3 271.5L416.1 266.5L419.0 262.5L423.6 259.0L427.6 257.2L436.2 254.5L433.3 250.5L433.9 248.5L435.0 247.5L441.8 244.5L454.6 241.9L470.6 240.3L487.6 240.0L504.6 240.7L519.6 242.5L531.3 245.5L536.2 248.5L536.7 250.5L535.2 252.5L526.3 256.5L526.0 257.5L529.2 266.5L529.1 271.5L526.1 277.5L518.8 285.5L518.6 286.5L526.5 289.5L529.5 291.5L530.2 292.5L530.5 294.5L529.2 296.5L525.6 298.5L522.0 299.5L512.6 300.1L503.6 298.6L492.6 294.4L487.6 294.1L480.6 295.6L470.6 299.9L467.6 300.7Z"/><path fill="#202020" d="M468.6 299.6L462.6 300.2L442.6 298.6L432.6 295.9L426.6 293.3L422.6 291.0L418.0 286.5L416.3 283.5L415.3 280.5L415.4 272.5L416.3 268.5L417.8 265.5L421.4 261.5L425.6 258.9L430.6 257.2L438.6 255.6L441.1 254.5L441.8 253.5L439.3 250.5L440.0 248.5L441.2 247.5L446.6 245.2L456.6 243.0L478.6 241.2L501.6 241.7L512.6 242.9L521.0 244.5L527.1 246.5L530.2 248.5L530.8 249.5L530.2 251.5L523.8 255.5L527.7 265.5L528.2 268.5L527.9 271.5L524.7 277.5L519.6 282.8L514.6 286.1L507.6 288.8L485.3 290.5L472.6 298.0L468.6 299.6Z"/><path fill="#262626" d="M465.6 299.5L447.6 298.3L440.6 297.2L429.6 293.7L422.6 290.0L418.4 285.5L416.9 282.5L416.2 279.5L416.7 270.5L417.6 267.5L419.5 264.5L422.6 261.5L426.6 259.2L430.6 257.8L438.6 256.5L446.9 253.5L444.9 250.5L445.6 248.5L447.0 247.5L452.2 245.5L460.6 243.8L479.6 242.2L499.6 242.7L515.6 244.9L521.1 246.5L524.6 248.5L525.2 250.5L521.3 254.5L526.0 263.5L527.0 267.5L527.0 270.5L525.0 275.5L519.6 281.5L514.6 284.9L507.6 287.4L483.9 289.5L471.6 297.8L465.6 299.5ZM482.0 261.5L483.5 259.5L483.5 258.5L479.6 258.0L475.9 258.5L479.6 261.6L480.6 262.0L482.0 261.5Z"/><path fill="#2d2d2d" d="M467.6 298.7L462.6 299.1L455.6 297.9L442.6 296.7L429.6 292.9L423.6 289.9L419.3 285.5L417.2 280.5L417.3 271.5L418.0 268.5L419.5 265.5L423.6 261.5L428.6 259.0L438.6 257.2L445.6 255.0L453.6 253.7L453.9 253.5L450.2 250.5L450.3 249.5L451.0 248.5L455.2 246.5L462.6 244.8L478.6 243.3L495.6 243.5L511.2 245.5L515.6 246.7L519.1 248.5L520.0 250.5L518.5 253.5L524.1 261.5L526.1 268.5L525.1 273.5L520.6 279.5L514.6 283.9L508.6 286.3L502.6 287.3L482.6 288.8L478.6 291.4L472.6 296.5L467.6 298.7ZM481.6 263.5L485.0 259.5L485.5 257.5L482.6 256.9L472.6 256.8L472.1 257.5L479.6 263.0L481.6 263.5Z"/><path fill="#333333" d="M465.6 298.6L461.6 298.5L455.6 297.1L441.6 295.6L429.6 292.2L423.6 289.1L420.0 285.5L417.9 280.5L418.1 270.5L420.2 265.5L423.6 262.1L428.6 259.5L438.6 257.8L445.6 255.7L450.6 255.1L464.6 255.9L468.6 256.9L474.6 260.0L480.6 264.9L481.6 265.2L482.6 264.7L486.6 258.9L487.0 257.5L486.6 256.2L466.6 254.7L458.6 252.6L455.6 250.5L455.7 249.5L456.6 248.5L458.5 247.5L465.6 245.7L478.6 244.4L493.6 244.5L507.6 246.1L510.6 246.9L513.7 248.5L514.7 249.5L515.2 252.5L515.9 253.5L520.1 257.5L522.4 260.5L524.8 266.5L525.2 269.5L524.6 272.5L523.0 275.5L520.6 278.4L514.6 282.9L507.6 285.7L497.6 287.3L481.6 288.2L478.6 290.2L472.6 295.9L468.6 297.9L465.6 298.6Z"/><path fill="#393939" d="M467.6 297.8L462.6 298.2L454.6 296.2L442.6 294.9L430.6 292.0L424.6 289.2L420.7 285.5L418.6 280.5L418.7 270.5L420.9 265.5L424.6 262.0L429.6 259.7L438.6 258.3L446.6 256.0L451.6 255.7L464.6 256.7L469.6 258.0L474.6 260.8L481.6 266.9L482.6 266.7L483.6 265.5L487.3 259.5L488.1 256.5L487.6 254.9L468.6 253.3L462.5 251.5L461.4 250.5L461.4 249.5L465.1 247.5L469.5 246.5L482.6 245.4L493.6 245.7L503.6 247.1L507.6 246.8L509.6 247.3L511.4 248.5L512.0 249.5L511.5 251.5L511.8 252.5L519.6 258.5L521.8 261.5L523.4 265.5L524.2 268.5L524.1 271.5L522.8 274.5L520.6 277.4L514.6 282.1L506.6 285.3L494.6 287.1L480.6 287.5L478.6 288.9L472.6 295.4L467.6 297.8Z"/><path fill="#404040" d="M466.6 297.6L461.6 297.7L454.6 295.5L445.6 294.6L432.6 292.0L428.6 290.8L424.6 288.6L420.7 284.5L419.1 280.5L419.1 271.5L420.8 266.5L424.6 262.6L429.6 260.1L438.6 258.8L446.6 256.4L451.6 256.1L464.6 257.2L470.6 258.9L474.7 261.5L480.6 268.0L482.6 269.0L483.6 268.1L487.9 260.5L489.6 254.0L488.6 253.4L473.6 252.5L469.8 251.5L468.1 250.5L468.1 249.5L469.8 248.5L473.8 247.5L483.6 246.7L495.6 247.4L502.6 249.4L506.6 247.3L508.6 247.4L510.8 248.5L511.2 250.5L509.6 252.2L508.5 252.5L514.6 255.8L518.1 258.5L520.5 261.5L522.6 266.1L523.3 268.5L523.2 271.5L520.5 276.5L517.6 279.2L513.6 281.9L505.6 284.9L493.6 286.8L480.6 286.5L478.6 287.7L472.6 294.9L469.6 296.7L466.6 297.6Z"/><path fill="#464646" d="M508.6 252.0L506.6 252.1L504.6 250.9L504.1 249.5L504.8 248.5L507.6 247.6L510.3 248.5L510.9 249.5L510.6 250.5L508.6 252.0ZM490.6 250.7L482.6 251.2L478.7 250.5L478.8 249.5L483.6 248.8L487.6 248.9L491.5 249.5L491.6 250.5L490.6 250.7ZM468.6 296.7L465.6 297.4L461.6 297.3L453.6 294.5L431.6 291.3L425.6 288.7L422.0 285.5L419.7 280.5L419.6 271.5L421.3 266.5L424.6 263.1L429.6 260.5L438.6 259.3L446.6 256.8L451.6 256.6L464.6 257.7L469.6 259.0L475.1 262.5L480.6 269.7L481.6 270.6L482.6 270.7L485.0 268.5L488.5 261.5L489.1 257.5L489.9 255.5L492.6 252.9L495.6 252.1L511.6 255.6L516.5 258.5L519.2 261.5L522.1 267.5L522.4 271.5L520.5 275.5L515.6 280.0L509.6 283.1L499.6 285.7L490.6 286.5L479.6 286.0L477.6 287.6L473.6 293.5L468.6 296.7Z"/><path fill="#4c4c4c" d="M508.6 251.6L506.6 251.6L504.9 250.5L504.7 249.5L505.3 248.5L507.6 247.8L509.8 248.5L510.5 249.5L510.3 250.5L508.6 251.6ZM467.6 296.7L461.6 297.0L452.6 293.5L432.6 291.1L428.6 289.9L425.6 288.3L421.8 284.5L420.1 280.5L420.0 271.5L421.9 266.5L424.7 263.5L428.6 261.3L432.6 260.2L439.5 259.5L446.6 257.2L451.6 256.9L463.6 257.9L468.6 259.0L473.2 261.5L476.3 264.5L480.6 271.2L481.6 271.9L484.5 270.5L486.3 268.5L489.6 261.9L489.6 257.5L490.5 255.5L492.6 253.8L495.6 252.9L498.6 253.2L503.6 255.1L510.6 256.5L514.6 258.6L517.6 261.5L521.1 267.5L521.7 271.5L519.7 275.5L515.6 279.3L508.6 283.0L499.6 285.3L490.6 286.1L479.6 285.1L477.6 286.5L473.1 293.5L470.6 295.4L467.6 296.7Z"/><path fill="#535353" d="M509.6 250.8L506.6 251.3L505.3 250.5L505.0 249.5L506.6 248.1L508.6 248.1L510.2 249.5L509.6 250.8ZM466.6 296.6L463.6 296.9L460.6 296.4L451.6 292.4L432.6 290.7L428.6 289.4L425.6 287.8L422.3 284.5L420.6 280.5L420.5 271.5L422.3 266.5L425.6 263.3L429.6 261.3L439.6 259.9L446.6 257.6L450.6 257.2L463.6 258.3L469.6 259.8L473.6 262.3L476.4 265.5L480.6 272.5L481.6 272.9L485.5 270.5L488.3 267.5L490.9 262.5L489.9 258.5L491.0 255.5L493.6 253.8L496.6 253.4L499.6 254.0L503.6 256.4L508.9 257.5L512.6 259.1L515.6 261.5L520.0 267.5L521.0 270.5L519.7 274.5L517.1 277.5L512.6 280.6L504.6 283.8L495.6 285.5L488.6 285.7L479.6 284.2L477.6 285.6L474.3 291.5L472.6 293.5L469.6 295.6L466.6 296.6Z"/><path fill="#595959" d="M508.6 251.0L506.6 251.0L505.7 250.5L505.4 249.5L506.6 248.4L508.9 248.5L509.8 249.5L509.5 250.5L508.6 251.0ZM464.6 296.6L459.6 295.8L451.6 291.4L443.6 290.5L433.6 290.5L428.6 289.1L425.6 287.4L422.1 283.5L420.9 279.5L420.9 271.5L422.8 266.5L425.6 263.7L429.6 261.6L433.6 260.7L439.6 260.2L446.6 257.9L451.6 257.6L464.6 258.7L469.6 260.2L473.3 262.5L475.9 265.5L480.5 273.5L481.6 273.7L487.7 269.5L490.9 266.5L492.7 263.5L490.6 259.5L490.8 256.5L493.6 254.2L496.6 253.8L500.6 255.1L504.6 258.5L508.6 259.4L511.6 260.8L517.6 266.0L519.6 268.5L520.2 271.5L519.0 274.5L515.6 278.1L510.6 281.2L502.6 284.0L494.6 285.3L487.6 285.3L479.6 283.4L476.6 286.0L474.5 290.5L472.1 293.5L468.6 295.7L464.6 296.6Z"/><path fill="#606060" d="M508.6 250.8L506.6 250.7L505.8 249.5L507.3 248.5L508.6 248.7L509.5 249.5L508.6 250.8ZM467.6 295.8L464.6 296.3L460.6 295.8L457.6 294.5L453.6 291.4L451.6 290.5L443.6 289.8L433.6 290.1L429.6 289.1L426.6 287.6L423.2 284.5L421.4 280.5L421.3 271.5L422.6 267.5L425.6 264.1L429.6 262.0L433.6 261.0L439.6 260.6L446.6 258.2L450.6 257.9L463.6 258.9L468.6 260.1L472.7 262.5L475.4 265.5L479.7 273.5L480.6 274.6L481.6 274.5L496.7 264.5L496.6 263.5L492.6 261.5L490.8 258.5L491.3 256.5L492.6 255.1L496.6 254.1L499.6 255.0L501.5 256.5L502.4 258.5L502.6 262.0L511.6 263.9L515.6 265.8L518.7 268.5L519.5 271.5L518.4 274.5L515.6 277.5L511.6 280.2L504.6 283.1L494.6 285.0L486.6 284.8L479.6 282.6L476.6 285.2L472.7 292.5L470.6 294.3L467.6 295.8Z"/><path fill="#666666" d="M508.6 250.5L506.7 250.5L506.2 249.5L507.6 248.8L508.6 249.1L509.1 249.5L508.6 250.5ZM498.6 262.0L495.6 262.2L492.6 260.8L491.2 258.5L491.7 256.5L493.6 255.0L495.6 254.5L497.6 254.6L499.8 255.5L501.4 257.5L501.4 259.5L500.6 260.8L498.6 262.0ZM466.6 295.7L462.6 295.9L459.6 295.2L456.7 293.5L452.6 290.0L443.6 289.2L434.6 289.9L430.6 289.1L426.6 287.2L423.7 284.5L421.8 280.5L421.7 271.5L423.0 267.5L426.6 263.8L430.6 261.9L439.6 261.0L445.6 258.8L450.6 258.2L464.6 259.4L470.6 261.4L474.9 265.5L480.6 275.7L487.6 270.7L492.6 267.9L497.6 266.1L502.6 265.1L508.6 264.9L513.6 265.8L516.6 267.4L518.4 269.5L518.6 272.5L516.1 276.5L511.6 279.8L504.6 282.8L497.6 284.4L490.6 284.9L484.6 283.9L479.6 281.6L476.0 285.5L473.8 290.5L472.3 292.5L469.6 294.6L466.6 295.7Z"/><path fill="#6c6c6c" d="M508.6 249.6L507.6 250.3L506.6 249.5L507.6 249.1L508.6 249.6ZM497.6 261.6L494.6 261.4L492.6 260.2L491.7 258.5L492.6 256.1L494.6 255.0L496.6 254.8L498.6 255.3L500.3 256.5L500.8 257.5L500.7 259.5L499.6 260.7L497.6 261.6ZM465.6 295.6L462.6 295.7L458.9 294.5L452.6 289.4L443.6 288.7L434.6 289.6L430.6 288.8L426.6 286.9L423.6 283.8L422.2 280.5L422.0 271.5L423.4 267.5L426.6 264.2L430.6 262.3L439.6 261.3L445.6 259.1L450.6 258.5L464.6 259.6L470.6 261.8L474.5 265.5L478.3 272.5L479.6 275.9L480.6 277.0L484.6 273.3L489.6 270.0L494.6 267.7L500.6 266.2L506.6 265.6L511.6 266.0L515.5 267.5L517.6 269.5L518.0 272.5L515.5 276.5L510.6 280.0L503.6 282.8L495.6 284.4L488.6 284.4L483.6 283.1L479.6 280.4L475.6 285.3L474.0 289.5L471.9 292.5L468.6 294.8L465.6 295.6Z"/><path fill="#737373" d="M498.6 260.7L495.6 261.2L493.6 260.5L492.1 258.5L492.7 256.5L495.6 255.1L498.6 255.7L499.7 256.5L500.4 258.5L498.6 260.7ZM468.6 294.5L464.6 295.5L460.6 294.9L457.6 293.4L453.6 289.3L452.6 288.9L443.6 288.3L434.6 289.3L430.6 288.5L427.6 287.1L424.5 284.5L422.5 280.5L422.4 271.5L423.8 267.5L426.6 264.6L430.6 262.6L433.6 261.9L439.6 261.6L444.6 259.7L448.6 258.8L464.6 259.9L470.6 262.2L473.3 264.5L475.2 267.5L478.4 273.5L479.4 278.5L478.1 281.5L475.1 285.5L473.2 290.5L471.6 292.5L468.6 294.5ZM499.6 283.5L492.6 284.3L486.6 283.7L482.2 281.5L481.0 279.5L480.9 278.5L482.8 275.5L487.6 271.6L492.6 269.0L498.6 267.1L504.6 266.2L509.6 266.3L513.6 267.2L516.6 269.3L517.5 271.5L517.1 273.5L513.8 277.5L507.6 281.1L499.6 283.5Z"/><path fill="#797979" d="M497.6 260.6L494.6 260.5L493.1 259.5L492.6 257.5L493.2 256.5L494.6 255.7L496.6 255.4L499.1 256.5L499.9 258.5L499.4 259.5L497.6 260.6ZM467.6 294.7L463.6 295.2L459.6 294.3L456.9 292.5L453.6 288.7L452.6 288.4L443.6 287.9L438.6 288.9L434.6 289.0L430.6 288.2L427.6 286.8L424.6 284.1L422.9 280.5L422.7 271.5L424.2 267.5L426.6 264.9L430.6 262.8L434.6 262.0L439.6 261.9L444.6 260.0L448.6 259.1L464.6 260.2L467.6 261.0L470.6 262.5L473.7 265.5L477.0 271.5L478.3 274.5L478.8 278.5L478.2 280.5L474.8 285.5L472.6 290.8L470.6 293.0L467.6 294.7ZM497.6 283.6L490.6 284.0L485.6 283.0L482.2 280.5L482.0 277.5L484.3 274.5L487.6 271.9L492.6 269.4L497.6 267.7L503.6 266.7L509.6 266.8L513.6 267.8L516.0 269.5L516.9 271.5L516.5 273.5L513.2 277.5L506.6 281.2L497.6 283.6Z"/><path fill="#808080" d="M498.6 259.6L496.6 260.4L494.6 260.1L493.6 259.4L493.1 257.5L494.6 256.1L497.6 256.0L499.2 257.5L499.3 258.5L498.6 259.6ZM466.6 294.7L462.6 294.9L459.6 294.0L456.6 291.9L453.9 288.5L452.6 288.0L443.6 287.5L438.6 288.6L434.6 288.7L430.6 287.9L427.6 286.5L424.5 283.5L423.1 279.5L423.1 271.5L424.6 267.5L427.6 264.6L430.6 263.1L434.6 262.3L439.6 262.2L445.6 259.9L448.6 259.3L464.6 260.5L470.1 262.5L473.3 265.5L477.2 272.5L478.3 275.5L478.4 278.5L477.2 281.5L474.6 285.1L472.5 290.5L469.6 293.4L466.6 294.7ZM495.6 283.6L489.6 283.6L484.6 282.1L482.5 279.5L483.2 276.5L486.0 273.5L489.6 271.1L494.6 268.9L499.6 267.6L504.6 267.0L509.6 267.2L513.6 268.3L515.9 270.5L516.2 272.5L515.5 274.5L511.2 278.5L503.6 282.0L495.6 283.6Z"/><path fill="#868686" d="M497.6 259.7L494.6 259.6L493.6 258.5L493.6 257.5L495.6 256.2L497.7 256.5L498.7 257.5L498.7 258.5L497.6 259.7ZM465.6 294.7L462.6 294.7L459.2 293.5L456.6 291.5L453.6 287.8L443.6 287.2L438.6 288.3L434.6 288.5L430.6 287.6L427.6 286.1L424.9 283.5L423.4 279.5L423.4 271.5L424.9 267.5L427.6 264.9L430.6 263.4L434.6 262.6L439.7 262.5L445.6 260.2L448.6 259.6L464.6 260.7L469.6 262.5L472.9 265.5L476.9 272.5L477.9 275.5L478.0 278.5L476.8 281.5L474.6 284.5L472.8 289.5L471.6 291.3L468.6 293.7L465.6 294.7ZM500.6 282.5L493.6 283.5L487.6 282.9L484.6 281.6L483.5 280.5L483.1 279.5L483.2 277.5L485.3 274.5L488.6 272.0L492.6 270.0L497.6 268.4L503.6 267.4L507.6 267.3L511.6 268.0L514.6 269.7L515.7 272.5L514.9 274.5L513.3 276.5L507.6 280.2L500.6 282.5Z"/><path fill="#8c8c8c" d="M497.6 258.9L495.6 259.4L494.3 258.5L494.4 257.5L496.6 256.7L497.9 257.5L497.6 258.9ZM464.6 294.5L461.6 294.2L458.6 292.9L453.6 287.4L443.6 286.8L438.6 288.0L434.6 288.2L430.6 287.4L427.6 285.8L424.6 282.5L423.7 279.5L423.7 271.5L425.3 267.5L427.6 265.2L430.6 263.7L434.6 262.8L440.6 262.6L445.6 260.5L448.6 259.8L464.6 261.0L469.6 262.9L472.5 265.5L476.5 272.5L477.6 275.5L477.6 278.5L477.0 280.5L474.3 284.5L471.6 291.0L468.6 293.4L464.6 294.5ZM498.6 282.7L492.6 283.2L487.5 282.5L484.2 280.5L483.7 279.5L483.7 277.5L485.8 274.5L488.6 272.4L493.6 269.9L498.6 268.4L503.6 267.7L508.6 267.8L512.6 268.9L514.6 270.5L514.9 273.5L513.7 275.5L511.6 277.5L505.6 280.7L498.6 282.7Z"/><path fill="#939393" d="M496.6 258.6L495.4 258.5L495.5 257.5L496.8 257.5L496.6 258.6ZM467.6 293.7L463.6 294.3L459.6 293.2L457.3 291.5L454.6 287.5L453.6 287.1L443.6 286.5L435.6 288.0L431.6 287.4L428.6 286.1L425.6 283.5L424.2 280.5L423.9 272.5L425.0 268.5L427.6 265.6L430.6 263.9L434.6 263.1L440.6 262.9L445.6 260.7L448.6 260.1L464.6 261.2L469.6 263.2L472.6 266.1L476.2 272.5L477.3 275.5L477.4 277.5L476.6 280.5L473.9 284.5L472.3 289.5L470.6 291.7L467.6 293.7ZM497.6 282.6L491.6 282.9L487.6 282.2L484.8 280.5L484.2 279.5L484.2 277.5L486.3 274.5L489.0 272.5L493.6 270.2L497.6 268.9L502.6 268.0L507.6 268.0L511.6 268.9L513.9 270.5L514.4 271.5L514.4 273.5L513.2 275.5L511.0 277.5L504.6 280.8L497.6 282.6Z"/><path fill="#999999" d="M466.6 293.8L462.6 294.0L459.6 293.0L456.8 290.5L454.6 287.0L453.6 286.7L449.6 286.9L443.6 286.2L435.6 287.8L431.6 287.2L428.6 285.8L425.6 282.9L424.3 279.5L424.3 271.5L425.3 268.5L427.6 265.9L430.6 264.2L434.6 263.3L440.6 263.2L445.6 261.0L448.6 260.3L457.6 261.3L463.6 261.3L468.6 262.9L470.9 264.5L473.1 267.5L476.4 273.5L477.2 277.5L476.3 280.5L473.6 284.5L471.6 290.1L469.6 292.3L466.6 293.8ZM496.6 282.5L490.6 282.5L486.9 281.5L484.8 279.5L485.2 276.5L486.8 274.5L490.6 271.9L498.6 268.9L503.6 268.2L507.6 268.3L510.6 268.9L513.2 270.5L513.9 271.5L513.9 273.5L512.7 275.5L510.5 277.5L504.6 280.6L496.6 282.5Z"/><path fill="#9f9f9f" d="M466.6 293.5L462.6 293.8L459.6 292.7L457.1 290.5L454.4 286.5L449.6 286.6L443.6 285.9L435.6 287.5L431.6 286.9L428.6 285.5L425.6 282.5L424.6 279.5L424.6 271.5L425.7 268.5L428.6 265.5L431.6 264.1L434.6 263.5L440.6 263.5L445.6 261.2L448.6 260.6L457.6 261.6L463.6 261.6L468.6 263.2L470.6 264.6L472.8 267.5L476.1 273.5L476.9 277.5L476.0 280.5L473.3 284.5L471.6 289.7L469.6 292.0L466.6 293.5ZM500.6 281.6L494.6 282.4L489.6 282.1L486.2 280.5L485.4 279.5L485.2 277.5L486.3 275.5L489.6 272.8L497.6 269.4L506.6 268.5L510.6 269.3L512.5 270.5L513.3 271.5L513.4 273.5L511.3 276.5L506.6 279.5L500.6 281.6Z"/><path fill="#a6a6a6" d="M465.6 293.5L462.6 293.5L459.6 292.4L457.4 290.5L454.6 286.2L449.6 286.4L443.6 285.6L435.6 287.3L432.6 286.9L429.0 285.5L426.0 282.5L424.9 279.5L424.9 271.5L426.0 268.5L428.6 265.8L431.6 264.4L434.6 263.8L440.6 263.8L445.6 261.5L448.6 260.8L451.6 260.8L457.6 261.8L463.6 261.8L468.7 263.5L471.8 266.5L475.3 272.5L476.5 275.5L476.6 277.5L475.7 280.5L473.0 284.5L471.9 288.5L470.8 290.5L468.6 292.4L465.6 293.5ZM499.6 281.6L493.6 282.2L488.8 281.5L486.0 279.5L485.7 277.5L486.8 275.5L489.6 273.1L493.6 271.0L497.6 269.7L505.6 268.7L509.6 269.4L511.8 270.5L512.7 271.5L512.9 273.5L510.8 276.5L505.9 279.5L499.6 281.6Z"/><path fill="#acacac" d="M467.6 292.7L463.6 293.4L460.2 292.5L457.7 290.5L455.6 286.5L454.6 285.8L449.6 286.1L443.6 285.4L435.6 287.1L432.6 286.7L429.5 285.5L426.6 282.9L425.2 279.5L425.2 271.5L426.3 268.5L428.6 266.1L431.6 264.6L434.6 264.0L440.6 264.1L445.6 261.8L448.6 261.0L451.6 261.0L457.6 262.1L463.6 262.0L468.6 263.7L471.5 266.5L475.0 272.5L476.2 275.5L476.3 277.5L475.4 280.5L472.7 284.5L471.2 289.5L469.6 291.4L467.6 292.7ZM498.6 281.5L493.6 281.9L489.6 281.4L486.6 279.5L486.2 277.5L487.3 275.5L490.6 272.8L498.6 269.7L503.6 269.0L507.6 269.2L510.6 270.2L512.0 271.5L512.4 272.5L512.0 274.5L509.0 277.5L504.6 279.8L498.6 281.5Z"/><path fill="#b2b2b2" d="M466.6 292.9L462.6 293.1L459.6 291.9L457.2 289.5L455.6 285.9L454.6 285.4L449.6 285.9L443.6 285.1L435.6 286.8L432.6 286.5L429.6 285.3L426.6 282.5L425.5 279.5L425.5 271.5L426.6 268.5L428.6 266.4L431.6 264.8L434.6 264.2L440.6 264.4L445.6 262.0L448.6 261.3L451.6 261.3L457.6 262.3L463.6 262.3L468.6 264.0L471.2 266.5L474.7 272.5L475.9 275.5L476.0 277.5L475.1 280.5L472.4 284.5L470.9 289.5L469.2 291.5L466.6 292.9ZM496.6 281.6L491.6 281.5L488.4 280.5L486.7 278.5L487.1 276.5L488.7 274.5L491.6 272.5L499.6 269.7L507.4 269.5L510.3 270.5L511.4 271.5L511.9 272.5L511.5 274.5L508.5 277.5L502.6 280.3L496.6 281.6Z"/><path fill="#b9b9b9" d="M466.6 292.6L462.6 292.9L459.6 291.7L457.5 289.5L455.6 285.3L449.6 285.6L443.6 284.8L435.6 286.6L432.6 286.2L429.6 285.0L426.9 282.5L425.8 279.5L425.8 271.5L427.0 268.5L428.9 266.5L431.6 265.1L435.6 264.4L440.6 264.6L445.6 262.3L448.6 261.5L451.6 261.5L457.6 262.6L463.6 262.5L468.6 264.3L470.8 266.5L474.9 273.5L475.8 277.5L474.8 280.5L472.2 284.5L470.7 289.5L468.8 291.5L466.6 292.6ZM500.6 280.6L495.6 281.4L490.6 281.0L487.8 279.5L487.2 277.5L488.2 275.5L490.5 273.5L497.6 270.4L505.6 269.6L508.6 270.2L510.8 271.5L511.3 273.5L509.3 276.5L505.6 278.8L500.6 280.6Z"/><path fill="#bfbfbf" d="M465.6 292.7L462.6 292.7L459.6 291.4L457.7 289.5L455.6 284.8L449.6 285.4L443.6 284.5L435.6 286.4L432.6 286.0L429.6 284.7L427.3 282.5L426.1 279.5L426.1 271.5L427.3 268.5L429.3 266.5L431.6 265.3L435.6 264.6L440.6 264.9L445.6 262.5L448.6 261.7L451.6 261.7L457.6 262.8L463.6 262.7L468.4 264.5L470.6 266.6L474.6 273.5L475.5 277.5L474.5 280.5L472.3 283.5L470.4 289.5L468.4 291.5L465.6 292.7ZM499.6 280.6L494.6 281.2L490.6 280.6L488.5 279.5L487.7 277.5L488.7 275.5L491.0 273.5L497.6 270.7L505.6 269.9L508.5 270.5L510.1 271.5L510.8 273.5L508.8 276.5L504.6 279.0L499.6 280.6Z"/><path fill="#c6c6c6" d="M464.6 292.6L461.6 292.2L458.9 290.5L457.4 288.5L456.6 285.4L455.6 284.4L449.6 285.2L443.6 284.2L435.6 286.1L432.6 285.7L429.8 284.5L427.6 282.5L426.4 279.5L426.4 271.5L427.6 268.5L429.8 266.5L432.6 265.3L435.6 264.9L440.6 265.2L445.6 262.8L448.6 262.0L451.6 261.9L457.6 263.0L463.6 262.9L468.0 264.5L470.2 266.5L474.4 273.5L475.3 277.5L474.3 280.5L472.0 283.5L470.2 289.5L467.6 291.8L464.6 292.6ZM498.6 280.6L494.6 280.9L490.6 280.3L488.4 278.5L488.5 276.5L491.6 273.5L498.6 270.7L505.6 270.2L509.6 271.7L510.3 273.5L508.3 276.5L504.6 278.7L498.6 280.6Z"/><path fill="#cccccc" d="M467.6 291.5L463.6 292.4L460.5 291.5L458.3 289.5L456.6 284.3L455.6 284.0L449.6 284.9L443.6 283.9L438.6 285.5L435.6 285.9L430.6 284.7L427.9 282.5L426.6 279.5L426.5 272.5L427.3 269.5L428.9 267.5L431.6 265.8L434.6 265.1L441.6 265.3L445.6 263.0L448.6 262.2L451.6 262.2L457.6 263.3L463.6 263.2L467.5 264.5L470.5 267.5L474.1 273.5L475.0 276.5L474.5 279.5L471.7 283.5L470.5 288.5L467.6 291.5ZM496.6 280.6L492.6 280.5L489.9 279.5L489.0 278.5L489.1 276.5L492.6 273.2L499.6 270.7L505.8 270.5L508.6 271.5L509.5 272.5L509.5 274.5L506.4 277.5L501.6 279.6L496.6 280.6Z"/><path fill="#d2d2d2" d="M466.6 291.8L462.6 292.0L459.6 290.6L458.0 288.5L456.6 283.5L450.6 284.7L443.6 283.6L438.6 285.3L435.6 285.7L430.6 284.4L428.3 282.5L426.9 279.5L426.8 272.5L427.6 269.5L429.6 267.2L432.6 265.7L435.6 265.3L441.6 265.6L445.6 263.3L448.6 262.4L451.6 262.4L456.6 263.5L463.6 263.4L467.0 264.5L470.2 267.5L474.3 274.5L474.7 277.5L473.7 280.5L471.4 283.5L470.2 288.5L468.7 290.5L466.6 291.8ZM500.6 279.6L495.6 280.4L491.6 279.8L489.6 278.5L489.6 276.5L492.6 273.5L498.6 271.2L504.6 270.7L507.6 271.4L508.9 272.5L509.0 274.5L507.3 276.5L503.9 278.5L500.6 279.6Z"/><path fill="#d9d9d9" d="M466.6 291.5L462.6 291.8L459.6 290.3L457.8 287.5L457.4 283.5L456.6 282.9L450.6 284.5L443.6 283.3L436.6 285.4L433.6 285.3L430.6 284.2L428.6 282.5L427.2 279.5L427.1 272.5L427.9 269.5L429.6 267.5L432.6 266.0L435.6 265.5L441.6 266.0L445.6 263.5L448.6 262.6L451.6 262.6L456.6 263.7L462.6 263.5L466.6 264.6L469.9 267.5L473.6 273.7L474.5 276.5L473.9 279.5L471.1 283.5L470.0 288.5L468.6 290.3L466.6 291.5ZM499.6 279.6L495.6 280.1L491.7 279.5L490.3 278.5L490.1 276.5L493.2 273.5L498.6 271.4L504.6 271.0L506.8 271.5L508.2 272.5L508.4 274.5L506.8 276.5L503.2 278.5L499.6 279.6Z"/><path fill="#dfdfdf" d="M465.6 291.6L462.2 291.5L459.1 289.5L457.8 286.5L457.6 281.9L453.6 283.7L450.6 284.3L443.6 283.0L438.6 284.8L435.6 285.2L432.6 284.8L430.6 283.9L428.6 282.0L427.5 279.5L427.4 272.5L428.2 269.5L430.1 267.5L432.6 266.2L435.6 265.8L441.6 266.3L445.6 263.8L448.6 262.9L451.6 262.8L456.6 264.0L462.6 263.7L466.6 264.8L469.6 267.5L473.2 273.5L474.2 277.5L473.6 279.6L470.8 283.5L469.6 288.7L468.0 290.5L465.6 291.6ZM498.6 279.6L492.6 279.4L491.0 278.5L490.6 276.5L493.8 273.5L498.6 271.7L503.6 271.2L505.6 271.5L507.5 272.5L507.9 274.5L506.2 276.5L502.6 278.5L498.6 279.6Z"/><path fill="#e6e6e6" d="M464.6 291.6L461.6 291.1L458.7 288.5L458.0 285.5L458.9 281.5L458.6 280.0L455.5 282.5L451.6 283.9L448.6 283.9L443.6 282.7L438.6 284.6L435.6 285.0L432.6 284.5L430.6 283.6L428.6 281.6L427.8 279.5L427.7 272.5L428.5 269.5L430.5 267.5L432.6 266.5L435.6 266.0L441.6 266.6L446.6 263.6L449.6 263.0L456.6 264.2L463.6 264.1L467.2 265.5L469.3 267.5L472.9 273.5L473.8 275.5L474.0 277.5L473.4 279.5L470.5 283.5L469.5 288.5L467.6 290.5L464.6 291.6ZM496.6 279.5L492.6 278.9L491.1 277.5L491.8 275.5L494.4 273.5L498.6 272.0L502.6 271.5L505.6 271.9L507.4 273.5L506.7 275.5L504.0 277.5L500.6 278.8L496.6 279.5Z"/><path fill="#ececec" d="M466.6 290.8L462.6 291.2L460.6 290.3L459.0 288.5L458.3 286.5L458.3 284.5L459.8 280.5L459.6 279.2L458.6 278.8L455.6 282.1L451.6 283.7L448.6 283.7L443.6 282.4L438.6 284.3L435.6 284.8L430.9 283.5L428.9 281.5L428.1 279.5L428.0 272.5L428.9 269.5L430.6 267.7L432.6 266.7L435.6 266.2L441.6 267.0L445.6 264.4L448.6 263.3L451.6 263.3L456.6 264.5L462.6 264.2L466.6 265.4L468.9 267.5L473.2 274.5L473.7 276.5L473.1 279.5L470.2 283.5L469.2 288.5L466.6 290.8ZM500.6 278.6L496.6 279.2L493.6 278.8L491.8 277.5L491.8 276.5L493.5 274.5L497.7 272.5L502.6 271.8L505.8 272.5L506.7 273.5L506.1 275.5L503.4 277.5L500.6 278.6Z"/><path fill="#f2f2f2" d="M466.6 290.6L462.6 291.0L460.6 290.0L459.2 288.5L458.5 286.5L458.6 284.7L460.3 280.5L459.6 278.1L458.6 277.7L455.9 281.5L451.6 283.5L448.6 283.5L443.6 282.0L436.6 284.5L433.6 284.3L431.4 283.5L429.2 281.5L428.4 279.5L428.2 272.5L429.2 269.5L431.4 267.5L434.6 266.5L441.6 267.4L445.9 264.5L449.6 263.4L456.6 264.8L463.2 264.5L466.3 265.5L468.6 267.5L472.9 274.5L473.4 276.5L472.8 279.5L469.9 283.5L469.0 288.5L466.6 290.6ZM499.6 278.5L493.9 278.5L492.6 277.5L492.4 276.5L494.1 274.5L498.9 272.5L503.6 272.3L505.9 273.5L506.0 274.5L504.4 276.5L499.6 278.5Z"/><path fill="#f9f9f9" d="M465.6 290.7L462.0 290.5L459.5 288.5L458.7 285.5L460.8 280.5L460.7 279.5L459.6 277.2L458.6 276.7L455.6 281.3L452.6 283.0L448.6 283.2L443.6 281.7L436.6 284.3L433.6 284.1L431.6 283.3L429.5 281.5L428.7 279.5L428.5 272.5L429.5 269.5L431.6 267.7L434.6 266.7L441.6 267.8L446.4 264.5L449.6 263.7L456.6 265.1L463.6 264.8L466.6 266.0L468.2 267.5L472.6 274.5L473.2 277.5L472.5 279.5L470.0 282.5L468.7 288.5L465.6 290.7ZM496.6 278.5L493.4 277.5L493.2 276.5L494.8 274.5L500.6 272.5L503.6 272.7L505.1 273.5L505.3 274.5L503.7 276.5L500.6 277.9L496.6 278.5Z"/><path fill="#ffffff" d="M465.6 290.5L463.6 290.7L461.6 290.1L459.3 287.5L459.2 284.5L460.8 281.5L461.1 279.5L459.6 276.5L458.6 276.0L457.6 276.3L455.9 280.5L452.6 282.7L448.6 283.0L443.6 281.2L436.6 284.0L433.6 283.8L431.6 283.0L429.9 281.5L429.0 279.5L428.8 272.5L429.6 270.0L431.6 268.0L434.6 267.0L437.6 267.1L441.6 268.3L442.6 268.0L445.6 265.3L449.6 263.9L456.6 265.4L462.6 264.9L465.6 265.7L468.6 268.5L472.3 274.5L472.9 276.5L472.2 279.5L469.6 282.5L468.6 288.2L467.5 289.5L465.6 290.5ZM500.6 277.5L495.6 277.9L494.5 277.5L493.9 276.5L495.6 274.5L497.8 273.5L501.6 272.9L504.0 273.5L504.6 274.5L504.1 275.5L500.6 277.5Z"/></g></g>
<rect x="558.5" y="189" width="1.3" height="130.2" fill="#a8a8a8"/>
<rect x="560" y="189.25" width="3.4" height="130.2" fill="url(#cbar)" stroke="#402830" stroke-width="0.5"/>
<path d="M411.1 292.5h2M411.1 241.5h2M411.1 189.5h2M411.9 266.5h1.2M411.9 215.5h1.2M430.5 319.2v2M484.5 319.2v2M537.5 319.2v2M457.5 319.2v1.2M511.5 319.2v1.2" stroke="#333333" stroke-width="1" fill="none"/>
<g font-size="10.8" fill="#1a1a1a"><text x="410.3" y="295.95" text-anchor="end" font-size="11">10</text><text x="410.3" y="244.35" text-anchor="end" font-size="11">20</text><text x="410.3" y="192.75" text-anchor="end" font-size="11">30</text><text x="431.3" y="330.6" text-anchor="middle">600</text><text x="484.7" y="330.6" text-anchor="middle">630</text><text x="538.1" y="330.6" text-anchor="middle">660</text></g>
<text x="488" y="343.6" font-size="14.5" fill="#111" stroke="#111" stroke-width="0.15" text-anchor="middle" textLength="82.8" lengthAdjust="spacingAndGlyphs">polarity (nm)</text>
<text transform="translate(396.4 246) rotate(-90)" font-size="12.6" fill="#111" stroke="#111" stroke-width="0.15" text-anchor="middle" textLength="46" lengthAdjust="spacingAndGlyphs">std (nm)</text>
<g font-size="33" fill="#fff"><text x="525.7" y="218.8">g</text><text x="545.1" y="218.8">)</text></g>
<g clip-path="url(#hc3)"><g filter="url(#cm)"><rect x="605.30" y="185.00" width="153.40" height="138.20" fill="#000"/><path fill="#060606" d="M720.8 308.7L715.8 309.0L711.8 308.1L707.8 305.8L703.8 301.6L701.8 300.7L690.8 300.3L679.8 299.0L674.8 304.5L672.8 305.7L670.8 306.0L667.8 304.5L663.8 299.5L647.8 302.7L635.8 302.9L628.8 301.9L622.8 300.2L617.8 298.2L612.8 295.3L609.8 292.9L609.8 229.8L627.8 226.7L630.6 225.5L632.1 219.5L633.5 216.5L639.4 209.5L639.8 208.5L639.5 202.5L641.6 198.5L644.8 195.9L647.8 194.3L651.8 193.0L656.8 192.3L665.8 192.8L672.8 195.3L675.8 197.3L677.8 199.5L680.8 205.7L687.8 209.1L691.8 209.5L700.8 207.9L706.8 207.4L718.8 208.1L730.8 211.4L736.8 214.2L741.8 217.4L749.8 224.6L753.4 229.5L755.8 233.8L755.8 265.6L752.8 277.5L749.3 283.5L742.7 289.5L732.8 295.0L731.8 296.3L730.1 301.5L728.1 304.5L724.8 307.1L720.8 308.7Z"/><path fill="#0d0d0d" d="M719.8 305.5L714.8 305.5L710.5 303.5L708.0 300.5L706.3 294.5L704.8 293.9L692.8 293.6L680.8 291.7L679.8 291.9L678.8 293.2L674.8 299.9L671.8 301.6L668.8 300.7L664.8 296.6L650.8 300.1L638.8 300.8L626.8 298.9L621.8 297.2L616.8 294.6L612.8 291.7L609.8 288.6L609.8 262.7L615.8 255.5L615.9 254.5L609.8 252.0L609.8 236.0L619.8 233.0L636.1 230.5L639.0 229.5L639.7 228.5L639.5 223.5L640.5 219.5L642.8 215.9L647.5 211.5L647.4 210.5L644.3 205.5L644.1 203.5L644.7 201.5L646.1 199.5L648.8 197.5L652.8 195.9L656.8 195.1L664.8 195.6L668.8 197.0L671.3 198.5L673.3 200.5L674.3 202.5L674.6 204.5L673.8 208.5L674.3 209.5L681.8 213.9L688.8 221.2L689.8 220.7L692.6 216.5L695.8 214.1L699.8 212.8L703.8 212.6L706.8 213.2L709.8 214.5L715.8 219.7L724.8 222.5L730.8 225.6L736.8 230.5L741.8 237.5L744.2 244.5L744.4 252.5L740.9 264.5L740.0 273.5L738.9 277.5L737.2 280.5L734.4 283.5L725.7 289.5L725.6 290.5L727.3 295.5L726.9 299.5L725.9 301.5L724.1 303.5L719.8 305.5Z"/><path fill="#131313" d="M671.8 298.6L669.8 298.3L665.8 294.7L664.8 294.7L654.8 297.8L646.8 299.0L637.8 299.1L629.8 297.9L623.8 296.0L617.8 292.9L613.5 289.5L609.8 284.6L609.8 266.7L614.0 260.5L622.1 252.5L621.6 251.5L616.1 248.5L613.6 246.5L612.6 244.5L613.0 242.5L616.1 239.5L622.8 236.7L631.8 234.8L644.8 233.2L647.8 232.1L648.0 230.5L645.9 224.5L646.7 220.5L650.0 216.5L657.3 212.5L656.9 211.5L652.8 209.9L649.4 207.5L648.0 205.5L648.0 202.5L650.8 199.4L656.8 197.3L663.8 197.7L666.8 198.8L669.2 200.5L670.6 202.5L670.6 205.5L668.8 208.1L664.6 211.5L674.8 215.2L677.8 217.5L680.0 220.5L680.9 223.5L680.6 226.5L679.1 229.5L675.5 233.5L675.3 234.5L676.0 235.5L681.8 237.7L686.8 238.0L689.8 237.1L696.8 233.1L705.8 228.9L714.8 227.6L719.8 227.9L724.8 229.7L727.2 231.5L728.7 233.5L729.9 236.5L731.9 246.5L731.7 252.5L728.0 263.5L729.2 271.5L729.1 274.5L727.3 278.5L724.8 281.2L720.8 283.9L715.8 286.1L705.8 288.2L693.8 288.3L680.8 286.0L678.8 288.3L675.6 295.5L673.8 297.7L671.8 298.6ZM704.8 228.8L699.8 228.0L696.8 226.4L694.8 224.4L693.8 221.5L694.0 219.5L695.2 217.5L696.8 216.2L699.8 215.0L703.8 214.8L707.8 216.2L710.2 218.5L711.0 221.5L710.1 224.5L706.8 228.1L704.8 228.8ZM685.5 255.5L685.9 254.5L684.8 252.5L682.8 251.7L681.8 251.9L681.5 252.5L682.8 254.3L684.8 255.6L685.5 255.5ZM719.8 302.7L717.8 303.1L714.8 302.7L712.6 301.5L710.9 299.5L710.3 297.5L710.8 294.5L711.8 292.9L713.8 291.2L716.8 290.5L719.8 291.0L722.2 292.5L723.7 294.5L724.3 297.5L723.7 299.5L722.0 301.5L719.8 302.7Z"/><path fill="#1a1a1a" d="M661.8 208.5L657.8 208.7L653.8 207.4L651.7 205.5L651.4 203.5L651.7 202.5L654.0 200.5L657.8 199.4L661.8 199.5L664.8 200.6L666.9 202.5L667.2 203.5L666.9 205.5L664.8 207.5L661.8 208.5ZM667.8 230.7L661.8 231.4L658.8 230.8L656.1 229.5L653.8 227.5L652.7 225.5L652.5 223.5L653.1 221.5L656.2 218.5L660.8 217.0L665.8 217.0L670.8 218.8L673.5 221.5L674.2 223.5L674.0 225.5L671.9 228.5L667.8 230.7ZM705.8 224.7L702.8 225.5L698.8 224.6L696.8 222.5L696.8 219.5L698.8 217.5L700.8 216.8L703.8 216.8L705.8 217.5L707.8 219.5L708.2 221.5L707.2 223.5L705.8 224.7ZM718.8 242.8L712.8 243.3L709.8 241.4L708.6 239.5L708.2 236.5L708.9 234.5L710.7 232.5L713.8 231.0L717.8 230.5L721.7 231.5L724.3 233.5L725.2 235.5L724.8 238.5L722.8 240.8L718.8 242.8ZM647.8 297.6L640.8 297.9L634.8 297.4L628.8 296.2L623.8 294.4L618.8 291.6L615.0 288.5L611.8 284.5L609.9 280.5L609.8 272.2L611.3 267.5L613.7 263.5L616.8 259.8L625.8 252.5L626.3 251.5L625.5 247.5L624.0 244.5L624.0 243.5L625.5 241.5L629.4 239.5L638.1 237.5L650.8 236.6L660.8 237.2L668.8 239.2L671.8 240.5L674.4 242.5L674.9 244.5L672.3 248.5L680.7 256.5L685.8 263.6L686.8 263.8L690.8 261.7L693.8 261.1L700.8 262.6L707.8 263.2L710.8 264.3L714.1 266.5L716.8 269.4L717.9 271.5L718.0 274.5L716.4 277.5L712.8 280.2L707.8 282.1L702.8 282.9L696.8 283.0L691.8 282.3L684.8 280.0L682.8 280.5L679.8 283.1L675.7 292.5L672.8 295.9L671.8 296.2L669.8 295.9L666.8 293.2L665.8 293.0L655.8 296.2L647.8 297.6ZM709.8 249.8L708.4 249.5L708.5 248.5L710.0 248.5L709.8 249.8ZM718.8 299.7L715.8 299.7L714.3 298.5L713.8 296.5L715.3 294.5L717.8 294.0L720.3 295.5L720.7 297.5L718.8 299.7Z"/><path fill="#202020" d="M660.8 205.6L657.6 205.5L656.4 204.5L656.4 203.5L657.8 202.4L661.0 202.5L662.2 203.5L662.2 204.5L660.8 205.6ZM702.8 222.7L701.2 222.5L700.1 221.5L700.8 219.8L702.8 219.4L704.5 220.5L704.5 221.5L702.8 222.7ZM718.8 238.5L716.8 238.8L714.8 238.2L713.8 237.2L713.6 235.5L714.8 234.2L716.8 233.6L719.8 234.3L720.8 235.5L720.8 236.5L718.8 238.5ZM646.8 296.5L639.8 296.7L632.8 295.8L626.8 294.1L621.3 291.5L616.2 287.5L612.1 282.5L610.8 278.5L611.0 274.5L612.6 268.5L615.5 263.5L620.8 257.9L628.5 252.5L629.2 251.5L629.5 249.5L630.8 247.9L642.8 241.9L647.8 241.3L653.8 241.5L657.8 242.5L662.3 246.5L672.8 252.0L677.8 255.9L680.8 259.5L682.9 263.5L683.9 267.5L684.0 271.5L683.2 274.5L678.8 281.8L675.4 290.5L672.8 293.8L670.8 294.2L666.8 291.5L665.8 291.5L655.8 295.0L646.8 296.5ZM695.8 271.8L691.8 271.7L688.9 269.5L688.4 266.5L689.8 264.4L691.8 263.3L693.8 263.1L695.8 263.6L698.1 265.5L698.7 267.5L698.4 269.5L695.8 271.8Z"/><path fill="#262626" d="M645.8 295.5L636.8 295.3L628.8 293.5L621.8 290.2L615.8 285.3L612.8 281.5L611.9 277.5L613.1 271.5L615.8 265.5L618.8 261.6L622.0 258.5L631.2 252.5L632.4 249.5L633.4 248.5L637.8 246.8L645.8 245.9L654.8 246.7L665.8 250.2L672.8 253.7L676.8 257.0L679.5 260.5L681.3 264.5L682.0 268.5L681.0 274.5L674.7 289.5L673.2 291.5L671.8 292.3L669.8 291.9L666.8 290.0L665.8 290.1L655.8 293.8L645.8 295.5ZM694.8 269.1L692.8 269.4L691.2 268.5L690.7 266.5L691.4 265.5L693.8 264.9L695.3 265.5L696.1 267.5L694.8 269.1Z"/><path fill="#2d2d2d" d="M643.8 294.5L635.8 294.0L627.8 291.9L621.8 288.6L614.8 282.9L613.0 279.5L612.9 275.5L615.3 269.5L618.1 264.5L621.6 260.5L625.2 257.5L633.8 252.5L635.8 249.0L640.8 247.3L647.8 247.0L654.8 248.0L666.8 252.1L672.9 255.5L676.2 258.5L678.3 261.5L679.6 264.5L680.3 268.5L679.3 274.5L673.8 288.9L672.8 290.0L670.8 290.5L666.8 288.6L654.8 293.0L643.8 294.5Z"/><path fill="#333333" d="M651.8 292.6L640.8 293.4L635.8 292.9L630.3 291.5L625.7 289.5L617.8 284.7L615.4 282.5L613.7 279.5L613.5 276.5L614.3 273.5L620.8 263.2L627.0 257.5L636.6 252.5L638.3 249.5L640.6 248.5L645.8 247.9L651.7 248.5L666.8 253.5L670.8 255.7L674.3 258.5L676.6 261.5L678.3 265.5L678.7 269.5L678.2 273.5L675.0 284.5L672.8 288.2L670.8 288.8L666.8 287.2L658.8 290.6L651.8 292.6Z"/><path fill="#393939" d="M650.8 291.7L640.8 292.3L635.8 291.7L630.8 290.3L617.8 283.9L615.4 281.5L614.2 278.5L614.4 275.5L616.1 271.5L621.8 264.1L626.2 259.5L630.8 256.0L640.1 252.5L641.5 250.5L643.8 249.4L649.4 249.5L662.8 253.3L667.8 255.4L671.8 258.1L674.1 260.5L675.9 263.5L677.1 267.5L677.1 271.5L676.1 277.5L674.8 282.5L672.8 286.3L670.8 287.2L666.8 285.8L658.7 289.5L650.8 291.7Z"/><path fill="#404040" d="M649.8 290.7L640.8 291.1L632.8 289.6L620.8 285.0L617.8 283.1L615.5 280.5L614.8 276.5L616.8 271.5L628.6 258.5L631.8 256.2L637.8 254.1L645.8 252.6L649.8 252.4L656.8 253.2L662.8 254.7L667.8 256.9L671.8 259.9L674.4 263.5L675.7 268.5L675.8 273.5L674.8 279.5L672.8 284.4L670.8 285.5L666.8 284.3L658.0 288.5L649.8 290.7Z"/><path fill="#464646" d="M648.8 289.5L638.8 289.6L627.8 286.9L619.8 283.9L616.2 280.5L615.4 276.5L617.4 271.5L620.8 267.6L626.8 262.5L629.7 258.5L632.8 256.4L636.8 254.9L642.8 254.0L650.8 254.0L657.8 254.7L662.8 256.0L667.8 258.2L670.8 260.5L672.9 263.5L674.4 268.5L674.7 273.5L673.9 279.5L672.6 282.5L670.8 283.6L666.8 282.5L657.0 287.5L648.8 289.5Z"/><path fill="#4c4c4c" d="M651.8 287.5L645.8 288.3L640.8 288.2L627.8 286.3L622.8 284.8L618.8 282.6L616.8 280.5L615.9 277.5L616.4 274.5L619.6 269.5L628.2 262.5L630.7 258.5L635.8 255.7L640.8 254.7L646.8 254.7L658.8 256.1L665.8 258.2L669.8 260.9L672.1 264.5L673.6 273.5L672.8 279.5L671.8 281.0L670.8 281.5L666.8 280.3L659.8 284.6L651.8 287.5Z"/><path fill="#535353" d="M645.8 286.5L630.8 286.2L625.8 285.3L621.8 283.9L618.8 282.0L616.9 279.5L616.4 276.5L617.3 273.5L621.8 267.9L629.3 262.5L631.6 258.5L633.8 257.0L636.8 255.8L643.8 255.1L658.8 256.8L663.8 258.1L668.3 260.5L670.1 262.5L671.4 265.5L672.2 274.5L671.7 277.5L670.8 278.5L667.8 276.8L666.8 277.0L661.8 281.1L657.8 283.5L652.3 285.5L645.8 286.5Z"/><path fill="#595959" d="M640.8 285.6L632.8 285.9L624.8 284.7L619.8 282.2L618.1 280.5L617.1 278.5L617.1 275.5L619.0 271.5L623.8 266.7L630.3 262.5L632.4 258.5L634.8 257.0L637.8 256.0L644.8 255.7L649.8 256.7L661.8 258.0L666.8 260.2L669.3 262.5L670.5 265.5L670.2 269.5L668.6 272.5L663.8 277.0L657.8 281.0L652.8 283.1L645.8 284.9L640.8 285.6Z"/><path fill="#606060" d="M634.8 285.5L627.8 285.0L622.8 283.5L618.8 280.6L617.5 277.5L617.8 274.5L620.2 270.5L624.8 266.4L631.1 262.5L632.0 261.5L632.5 259.5L633.8 258.1L637.4 256.5L641.8 255.9L649.8 257.3L657.8 257.7L663.8 259.2L666.3 260.5L668.5 262.5L669.8 265.5L669.2 269.5L666.4 273.5L660.8 278.1L655.8 280.8L649.8 283.1L641.8 284.9L634.8 285.5Z"/><path fill="#666666" d="M640.8 284.6L630.8 285.1L626.8 284.5L622.8 283.1L619.8 281.1L618.2 278.5L617.9 276.5L618.7 273.5L622.8 268.4L631.9 262.5L632.9 261.5L633.3 259.5L634.1 258.5L637.8 256.8L642.8 256.3L648.8 257.7L658.8 258.3L663.8 259.7L667.7 262.5L669.1 265.5L668.8 268.5L667.3 271.5L663.8 275.1L659.8 278.0L653.8 281.1L647.8 283.2L640.8 284.6Z"/><path fill="#6c6c6c" d="M638.8 284.6L631.8 284.8L624.8 283.5L620.8 281.4L619.2 279.5L618.5 277.5L618.8 274.5L621.2 270.5L625.8 266.4L632.6 262.5L633.7 261.5L634.2 259.5L635.0 258.5L637.8 257.2L641.8 256.7L648.8 258.1L656.8 258.4L662.8 259.7L667.0 262.5L668.5 265.5L668.2 268.5L666.6 271.5L662.6 275.5L658.8 278.1L652.8 281.0L646.8 283.0L638.8 284.6Z"/><path fill="#737373" d="M635.8 284.5L628.8 284.2L623.8 282.8L620.5 280.5L619.2 278.5L618.9 276.5L619.6 273.5L622.6 269.5L626.8 266.1L633.3 262.5L634.5 261.5L635.0 259.5L635.9 258.5L638.8 257.4L641.8 257.1L647.8 258.4L657.8 258.8L663.5 260.5L667.1 263.5L668.0 266.5L667.3 269.5L664.3 273.5L659.8 277.1L654.8 279.8L648.8 282.1L641.8 283.8L635.8 284.5Z"/><path fill="#797979" d="M641.8 283.5L631.8 284.2L627.8 283.7L624.1 282.5L621.1 280.5L619.8 278.5L619.4 276.5L620.1 273.5L624.1 268.5L628.3 265.5L634.0 262.5L635.3 261.5L636.0 259.5L636.8 258.7L638.8 257.9L641.8 257.6L646.8 258.7L657.8 259.2L662.6 260.5L665.8 262.7L667.3 265.5L667.1 268.5L665.5 271.5L662.7 274.5L658.8 277.3L653.8 279.9L647.8 282.1L641.8 283.5Z"/><path fill="#808080" d="M639.8 283.6L634.8 284.0L629.8 283.8L625.8 282.8L623.0 281.5L620.9 279.5L620.0 277.5L619.9 275.5L621.1 272.5L625.8 267.5L634.7 262.5L636.2 261.5L637.1 259.5L639.8 258.2L658.8 259.7L662.8 261.1L665.8 263.5L666.9 266.5L666.2 269.5L664.2 272.5L660.9 275.5L655.8 278.6L650.8 280.8L639.8 283.6Z"/><path fill="#868686" d="M637.8 283.5L628.8 283.3L624.8 282.0L622.4 280.5L620.8 278.5L620.4 275.5L621.0 273.5L623.0 270.5L626.8 267.1L637.1 261.5L638.5 259.5L639.8 258.9L657.8 259.8L662.8 261.5L665.2 263.5L666.3 266.5L665.7 269.5L663.7 272.5L660.3 275.5L655.4 278.5L649.8 280.9L637.8 283.5Z"/><path fill="#8c8c8c" d="M642.8 282.5L632.8 283.5L625.8 282.1L623.0 280.5L621.4 278.5L620.8 276.5L621.4 273.5L623.4 270.5L626.8 267.5L640.8 259.8L656.8 260.0L661.8 261.5L664.5 263.5L665.6 265.5L665.6 268.5L664.0 271.5L661.1 274.5L652.8 279.4L642.8 282.5Z"/><path fill="#939393" d="M640.8 282.6L631.8 283.1L625.4 281.5L622.6 279.5L621.5 277.5L621.4 275.5L622.4 272.5L624.8 269.5L628.8 266.5L640.8 260.7L649.8 260.0L655.8 260.2L660.8 261.5L663.9 263.5L665.0 265.5L665.0 268.5L663.5 271.5L660.5 274.5L656.0 277.5L651.8 279.5L640.8 282.6Z"/><path fill="#999999" d="M639.8 282.5L630.8 282.7L624.8 280.7L623.3 279.5L622.1 277.5L621.8 275.5L622.9 272.5L625.3 269.5L629.3 266.5L641.8 261.0L649.8 260.3L655.8 260.5L660.8 261.9L663.8 264.3L664.7 266.5L664.2 269.5L662.1 272.5L659.8 274.7L655.4 277.5L651.1 279.5L639.8 282.5Z"/><path fill="#9f9f9f" d="M636.8 282.6L631.8 282.6L627.8 281.7L625.2 280.5L623.1 278.5L622.4 276.5L622.8 273.5L624.8 270.5L628.3 267.5L632.8 264.9L639.8 262.1L646.8 260.8L652.8 260.6L657.8 261.3L661.0 262.5L663.3 264.5L664.1 266.5L663.6 269.5L661.6 272.5L658.1 275.5L652.8 278.5L647.8 280.4L636.8 282.6Z"/><path fill="#a6a6a6" d="M641.8 281.6L632.8 282.4L626.8 281.0L624.6 279.5L623.2 277.5L622.8 275.5L623.3 273.5L625.3 270.5L628.8 267.5L634.5 264.5L641.8 261.9L648.8 260.9L654.8 261.1L659.8 262.4L662.6 264.5L663.5 266.5L663.1 269.5L661.8 271.6L658.9 274.5L651.8 278.6L641.8 281.6Z"/><path fill="#acacac" d="M640.8 281.5L632.8 282.1L626.7 280.5L623.7 277.5L623.3 275.5L624.3 272.5L626.7 269.5L631.0 266.5L636.8 263.9L642.8 262.0L648.8 261.3L654.8 261.4L659.0 262.5L661.8 264.5L662.8 266.5L662.5 269.5L660.8 272.1L658.3 274.5L651.3 278.5L640.8 281.5Z"/><path fill="#b2b2b2" d="M638.8 281.5L630.8 281.5L625.9 279.5L624.3 277.5L623.9 275.5L625.4 271.5L628.5 268.5L632.8 265.9L638.8 263.5L644.8 262.0L650.8 261.5L655.8 262.0L659.8 263.5L661.8 265.5L662.3 267.5L661.4 270.5L658.9 273.5L656.2 275.5L647.7 279.5L638.8 281.5Z"/><path fill="#b9b9b9" d="M635.8 281.5L631.8 281.4L628.8 280.6L626.7 279.5L624.8 277.3L624.4 275.5L625.2 272.5L627.8 269.5L630.5 267.5L639.9 263.5L648.8 261.9L656.2 262.5L658.8 263.5L661.0 265.5L661.6 267.5L660.8 270.5L658.2 273.5L655.5 275.5L646.6 279.5L635.8 281.5Z"/><path fill="#bfbfbf" d="M640.8 280.6L633.8 281.2L630.8 280.8L627.8 279.7L626.2 278.5L625.1 276.5L625.0 274.5L625.7 272.5L628.3 269.5L631.8 267.1L637.8 264.6L642.8 263.1L648.8 262.3L653.8 262.5L657.6 263.5L660.2 265.5L660.9 267.5L660.5 269.5L658.8 272.2L656.2 274.5L648.5 278.5L640.8 280.6Z"/><path fill="#c6c6c6" d="M638.8 280.6L632.8 280.8L627.8 279.2L626.1 277.5L625.5 275.5L625.8 273.5L626.9 271.5L629.8 268.8L633.8 266.5L643.8 263.3L649.8 262.7L653.8 262.9L656.8 263.7L659.3 265.5L660.1 267.5L659.8 269.5L657.8 272.5L655.4 274.5L647.3 278.5L638.8 280.6Z"/><path fill="#cccccc" d="M636.8 280.5L630.8 280.1L628.8 279.3L626.7 277.5L626.0 275.5L626.3 273.5L627.8 271.1L630.8 268.5L637.8 265.4L647.8 263.3L654.8 263.6L657.1 264.5L658.8 266.1L659.3 268.5L658.6 270.5L654.5 274.5L645.9 278.5L636.8 280.5Z"/><path fill="#d2d2d2" d="M639.8 279.7L633.8 280.2L628.8 278.8L626.8 276.5L626.6 274.5L627.3 272.5L629.8 269.7L632.8 267.8L642.9 264.5L652.8 263.7L656.0 264.5L657.8 266.0L658.5 267.5L658.2 269.5L654.9 273.5L649.7 276.5L639.8 279.7Z"/><path fill="#d9d9d9" d="M637.8 279.6L631.8 279.6L628.0 277.5L627.1 275.5L627.4 273.5L628.5 271.5L630.8 269.5L637.8 266.4L648.8 264.2L654.5 264.5L657.4 266.5L657.4 269.5L656.1 271.5L653.8 273.4L648.0 276.5L637.8 279.6Z"/><path fill="#dfdfdf" d="M635.8 279.5L630.8 278.9L628.0 276.5L627.7 274.5L628.4 272.5L631.8 269.3L636.8 267.2L649.8 264.7L653.8 264.8L656.5 266.5L656.9 267.5L656.6 269.5L655.1 271.5L652.8 273.1L643.5 277.5L635.8 279.5Z"/><path fill="#e6e6e6" d="M638.8 278.6L633.8 279.1L629.8 277.8L628.3 275.5L628.9 272.5L631.8 269.8L636.8 267.8L643.8 267.1L650.8 265.1L653.8 265.4L655.7 266.5L656.2 267.5L655.9 269.5L653.8 271.6L638.8 278.6Z"/><path fill="#ececec" d="M636.8 278.6L632.4 278.5L629.3 276.5L628.8 274.5L629.5 272.5L632.8 269.7L635.8 268.6L638.8 268.1L643.8 269.1L647.7 266.5L650.8 265.6L653.8 265.9L655.4 267.5L655.1 269.5L652.8 271.4L649.8 272.4L645.8 272.2L642.1 276.5L636.8 278.6Z"/><path fill="#f2f2f2" d="M652.8 270.7L649.8 271.5L647.8 271.0L646.6 269.5L646.8 268.5L649.8 266.3L653.7 266.5L654.6 267.5L654.7 268.5L652.8 270.7ZM638.8 277.6L634.8 278.4L631.8 277.8L629.8 276.2L629.6 273.5L631.0 271.5L634.4 269.5L637.8 268.9L640.8 269.4L642.9 271.5L643.1 273.5L642.0 275.5L638.8 277.6Z"/><path fill="#f9f9f9" d="M650.8 270.7L649.0 270.5L647.9 269.5L648.8 267.6L651.8 266.7L653.7 267.5L653.9 268.5L653.3 269.5L650.8 270.7ZM636.8 277.7L633.8 277.8L631.8 277.3L630.1 275.5L630.2 273.5L631.7 271.5L633.8 270.3L636.8 269.5L638.8 269.7L641.5 271.5L641.9 273.5L639.8 276.4L636.8 277.7Z"/><path fill="#ffffff" d="M651.8 269.6L649.8 269.7L649.3 268.5L650.6 267.5L652.2 267.5L652.9 268.5L651.8 269.6ZM637.8 276.8L634.8 277.4L632.8 277.1L630.9 275.5L630.9 273.5L632.6 271.5L634.6 270.5L636.8 270.1L638.9 270.5L640.3 271.5L640.9 273.5L639.9 275.5L637.8 276.8Z"/></g></g>
<rect x="754.7" y="189" width="1.3" height="130.2" fill="#a8a8a8"/>
<rect x="756.2" y="189.25" width="4.4" height="130.2" fill="url(#cbar)" stroke="#402830" stroke-width="0.5"/>
<path d="M607.3 292.5h2M607.3 241.5h2M607.3 189.5h2M608.1 266.5h1.2M608.1 215.5h1.2M627.5 319.2v2M680.5 319.2v2M733.5 319.2v2M653.5 319.2v1.2M707.5 319.2v1.2" stroke="#333333" stroke-width="1" fill="none"/>
<g font-size="10.8" fill="#1a1a1a"><text x="606.5" y="295.95" text-anchor="end" font-size="11">10</text><text x="606.5" y="244.35" text-anchor="end" font-size="11">20</text><text x="606.5" y="192.75" text-anchor="end" font-size="11">30</text><text x="627.5" y="330.6" text-anchor="middle">600</text><text x="680.9" y="330.6" text-anchor="middle">630</text><text x="734.3" y="330.6" text-anchor="middle">660</text></g>
<text x="684.2" y="343.6" font-size="14.5" fill="#111" stroke="#111" stroke-width="0.15" text-anchor="middle" textLength="82.8" lengthAdjust="spacingAndGlyphs">polarity (nm)</text>
<text transform="translate(592.6 246) rotate(-90)" font-size="12.6" fill="#111" stroke="#111" stroke-width="0.15" text-anchor="middle" textLength="46" lengthAdjust="spacingAndGlyphs">std (nm)</text>
<g font-size="33" fill="#fff"><text x="723.55" y="218.8">h</text><text x="743" y="218.8">)</text></g>
</svg>
</body></html>
